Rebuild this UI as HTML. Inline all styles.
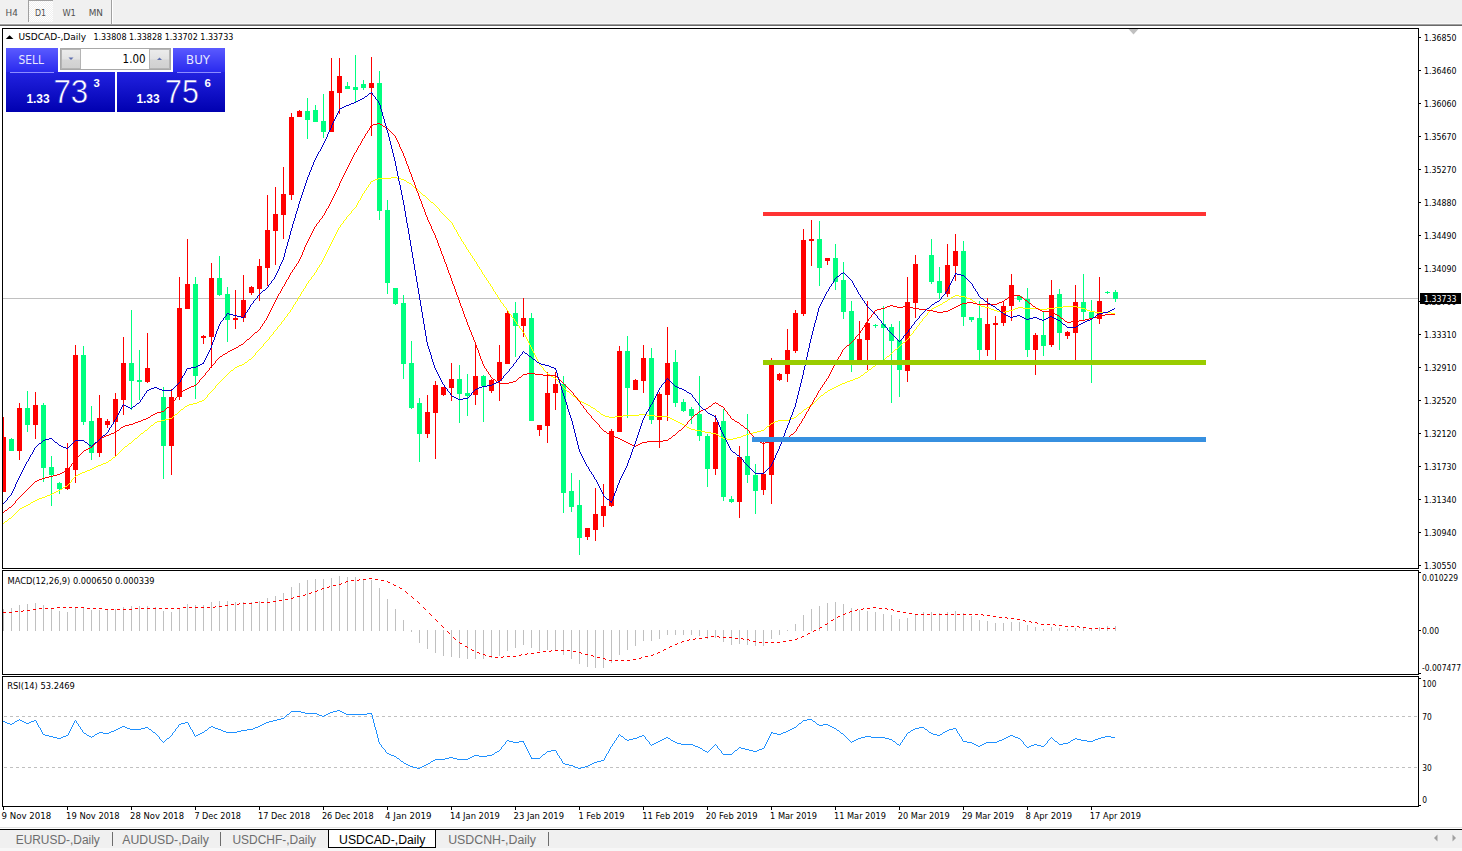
<!DOCTYPE html>
<html><head><meta charset="utf-8"><title>USDCAD-,Daily</title>
<style>
html,body{margin:0;padding:0;background:#fff;width:1462px;height:851px;overflow:hidden}
svg{display:block;font-family:"Liberation Sans", Arial, sans-serif}
.ax{font-size:9.3px;fill:#000;font-family:"DejaVu Sans Condensed","Liberation Sans",sans-serif} .wt{fill:#fff}
</style></head><body>
<svg width="1462" height="851" viewBox="0 0 1462 851">
<defs>
<clipPath id="mainclip"><rect x="3" y="29" width="1415" height="539"/></clipPath>
<pattern id="chk" width="2" height="2" patternUnits="userSpaceOnUse"><rect width="2" height="2" fill="#f0f0f0"/><rect width="1" height="1" fill="#fff"/><rect x="1" y="1" width="1" height="1" fill="#fff"/></pattern>
<pattern id="dash" x="4" width="6" height="1" patternUnits="userSpaceOnUse"><rect width="3" height="1" fill="#c0c0c0"/></pattern>
</defs>
<rect width="1462" height="851" fill="#fff"/>
<rect x="0" y="0" width="1462" height="24" fill="#f0f0f0"/>
<rect x="0" y="23" width="1462" height="1" fill="#f7f7f7"/>
<rect x="0" y="24" width="1462" height="1" fill="#a0a0a0"/>
<rect x="0" y="25" width="1462" height="1" fill="#696969"/>
<rect x="28" y="0" width="25" height="22" fill="url(#chk)"/>
<rect x="28" y="0" width="1" height="22" fill="#a0a0a0"/>
<rect x="28" y="0" width="25" height="1" fill="#a0a0a0"/>
<rect x="111" y="0" width="1" height="24" fill="#a0a0a0"/>
<rect x="112" y="0" width="1" height="24" fill="#ffffff"/>
<text x="5.6" y="15.8" font-size="9.3" fill="#505050" font-family="DejaVu Sans Condensed, Liberation Sans, sans-serif" textLength="12.3" lengthAdjust="spacingAndGlyphs">H4</text>
<text x="34.9" y="15.8" font-size="9.3" fill="#505050" font-family="DejaVu Sans Condensed, Liberation Sans, sans-serif" textLength="11.1" lengthAdjust="spacingAndGlyphs">D1</text>
<text x="62.4" y="15.8" font-size="9.3" fill="#505050" font-family="DejaVu Sans Condensed, Liberation Sans, sans-serif" textLength="13.5" lengthAdjust="spacingAndGlyphs">W1</text>
<text x="88.7" y="15.8" font-size="9.3" fill="#505050" font-family="DejaVu Sans Condensed, Liberation Sans, sans-serif" textLength="14.3" lengthAdjust="spacingAndGlyphs">MN</text>
<rect x="2.5" y="28.5" width="1416" height="540" fill="none" stroke="#000" stroke-width="1"/>
<rect x="2.5" y="570.5" width="1416" height="104" fill="none" stroke="#000" stroke-width="1"/>
<rect x="2.5" y="676.5" width="1416" height="130" fill="none" stroke="#000" stroke-width="1"/>
<rect x="1419" y="37" width="2" height="1" fill="#000"/>
<text x="1424" y="41" class="ax" textLength="32.5" lengthAdjust="spacingAndGlyphs">1.36850</text>
<rect x="1419" y="70" width="2" height="1" fill="#000"/>
<text x="1424" y="74" class="ax" textLength="32.5" lengthAdjust="spacingAndGlyphs">1.36460</text>
<rect x="1419" y="103" width="2" height="1" fill="#000"/>
<text x="1424" y="107" class="ax" textLength="32.5" lengthAdjust="spacingAndGlyphs">1.36060</text>
<rect x="1419" y="136" width="2" height="1" fill="#000"/>
<text x="1424" y="140" class="ax" textLength="32.5" lengthAdjust="spacingAndGlyphs">1.35670</text>
<rect x="1419" y="169" width="2" height="1" fill="#000"/>
<text x="1424" y="173" class="ax" textLength="32.5" lengthAdjust="spacingAndGlyphs">1.35270</text>
<rect x="1419" y="202" width="2" height="1" fill="#000"/>
<text x="1424" y="206" class="ax" textLength="32.5" lengthAdjust="spacingAndGlyphs">1.34880</text>
<rect x="1419" y="235" width="2" height="1" fill="#000"/>
<text x="1424" y="239" class="ax" textLength="32.5" lengthAdjust="spacingAndGlyphs">1.34490</text>
<rect x="1419" y="268" width="2" height="1" fill="#000"/>
<text x="1424" y="272" class="ax" textLength="32.5" lengthAdjust="spacingAndGlyphs">1.34090</text>
<rect x="1419" y="301" width="2" height="1" fill="#000"/>
<text x="1424" y="305" class="ax" textLength="32.5" lengthAdjust="spacingAndGlyphs">1.33700</text>
<rect x="1419" y="334" width="2" height="1" fill="#000"/>
<text x="1424" y="338" class="ax" textLength="32.5" lengthAdjust="spacingAndGlyphs">1.33310</text>
<rect x="1419" y="367" width="2" height="1" fill="#000"/>
<text x="1424" y="371" class="ax" textLength="32.5" lengthAdjust="spacingAndGlyphs">1.32910</text>
<rect x="1419" y="400" width="2" height="1" fill="#000"/>
<text x="1424" y="404" class="ax" textLength="32.5" lengthAdjust="spacingAndGlyphs">1.32520</text>
<rect x="1419" y="433" width="2" height="1" fill="#000"/>
<text x="1424" y="437" class="ax" textLength="32.5" lengthAdjust="spacingAndGlyphs">1.32120</text>
<rect x="1419" y="466" width="2" height="1" fill="#000"/>
<text x="1424" y="470" class="ax" textLength="32.5" lengthAdjust="spacingAndGlyphs">1.31730</text>
<rect x="1419" y="499" width="2" height="1" fill="#000"/>
<text x="1424" y="503" class="ax" textLength="32.5" lengthAdjust="spacingAndGlyphs">1.31340</text>
<rect x="1419" y="532" width="2" height="1" fill="#000"/>
<text x="1424" y="536" class="ax" textLength="32.5" lengthAdjust="spacingAndGlyphs">1.30940</text>
<rect x="1419" y="565" width="2" height="1" fill="#000"/>
<text x="1424" y="569" class="ax" textLength="32.5" lengthAdjust="spacingAndGlyphs">1.30550</text>
<rect x="3" y="298" width="1415" height="1" fill="#c0c0c0"/>
<rect x="1420" y="293" width="41" height="11" fill="#000"/>
<text x="1424" y="302" class="ax wt" textLength="32.5" lengthAdjust="spacingAndGlyphs">1.33733</text>
<polygon points="1128.5,29 1138.5,29 1133.5,34.5" fill="#c0c0c0"/>
<g clip-path="url(#mainclip)"><rect x="3" y="417" width="1" height="75" fill="#ff0000"/><rect x="1" y="437" width="5" height="55" fill="#ff0000"/><rect x="11" y="438" width="1" height="13" fill="#00ff7f"/><rect x="9" y="439" width="5" height="12" fill="#00ff7f"/><rect x="19" y="403" width="1" height="57" fill="#ff0000"/><rect x="17" y="408" width="5" height="43" fill="#ff0000"/><rect x="27" y="391" width="1" height="41" fill="#00ff7f"/><rect x="25" y="408" width="5" height="17" fill="#00ff7f"/><rect x="35" y="392" width="1" height="47" fill="#ff0000"/><rect x="33" y="405" width="5" height="20" fill="#ff0000"/><rect x="43" y="403" width="1" height="79" fill="#00ff7f"/><rect x="41" y="405" width="5" height="63" fill="#00ff7f"/><rect x="51" y="456" width="1" height="50" fill="#00ff7f"/><rect x="49" y="467" width="5" height="8" fill="#00ff7f"/><rect x="59" y="482" width="1" height="12" fill="#00ff7f"/><rect x="57" y="483" width="5" height="6" fill="#00ff7f"/><rect x="67" y="443" width="1" height="47" fill="#ff0000"/><rect x="65" y="468" width="5" height="21" fill="#ff0000"/><rect x="75" y="345" width="1" height="138" fill="#ff0000"/><rect x="73" y="355" width="5" height="115" fill="#ff0000"/><rect x="83" y="346" width="1" height="79" fill="#00ff7f"/><rect x="81" y="355" width="5" height="67" fill="#00ff7f"/><rect x="91" y="406" width="1" height="54" fill="#00ff7f"/><rect x="89" y="421" width="5" height="32" fill="#00ff7f"/><rect x="99" y="395" width="1" height="62" fill="#ff0000"/><rect x="97" y="418" width="5" height="35" fill="#ff0000"/><rect x="107" y="419" width="1" height="9" fill="#ff0000"/><rect x="105" y="421" width="5" height="4" fill="#ff0000"/><rect x="115" y="393" width="1" height="63" fill="#ff0000"/><rect x="113" y="399" width="5" height="23" fill="#ff0000"/><rect x="123" y="337" width="1" height="78" fill="#ff0000"/><rect x="121" y="363" width="5" height="37" fill="#ff0000"/><rect x="131" y="310" width="1" height="100" fill="#00ff7f"/><rect x="129" y="363" width="5" height="18" fill="#00ff7f"/><rect x="139" y="350" width="1" height="50" fill="#00ff7f"/><rect x="137" y="380" width="5" height="2" fill="#00ff7f"/><rect x="147" y="333" width="1" height="50" fill="#ff0000"/><rect x="145" y="368" width="5" height="14" fill="#ff0000"/><rect x="163" y="387" width="1" height="92" fill="#00ff7f"/><rect x="161" y="397" width="5" height="49" fill="#00ff7f"/><rect x="171" y="389" width="1" height="86" fill="#ff0000"/><rect x="169" y="397" width="5" height="49" fill="#ff0000"/><rect x="179" y="277" width="1" height="123" fill="#ff0000"/><rect x="177" y="308" width="5" height="89" fill="#ff0000"/><rect x="187" y="239" width="1" height="70" fill="#ff0000"/><rect x="185" y="284" width="5" height="25" fill="#ff0000"/><rect x="195" y="277" width="1" height="122" fill="#00ff7f"/><rect x="193" y="284" width="5" height="92" fill="#00ff7f"/><rect x="203" y="335" width="1" height="9" fill="#ff0000"/><rect x="201" y="336" width="5" height="2" fill="#ff0000"/><rect x="211" y="263" width="1" height="105" fill="#ff0000"/><rect x="209" y="278" width="5" height="59" fill="#ff0000"/><rect x="219" y="256" width="1" height="40" fill="#00ff7f"/><rect x="217" y="278" width="5" height="17" fill="#00ff7f"/><rect x="227" y="287" width="1" height="55" fill="#00ff7f"/><rect x="225" y="294" width="5" height="26" fill="#00ff7f"/><rect x="235" y="290" width="1" height="39" fill="#ff0000"/><rect x="233" y="318" width="5" height="2" fill="#ff0000"/><rect x="243" y="275" width="1" height="47" fill="#ff0000"/><rect x="241" y="300" width="5" height="18" fill="#ff0000"/><rect x="251" y="286" width="1" height="9" fill="#ff0000"/><rect x="249" y="287" width="5" height="6" fill="#ff0000"/><rect x="259" y="259" width="1" height="42" fill="#ff0000"/><rect x="257" y="266" width="5" height="23" fill="#ff0000"/><rect x="267" y="195" width="1" height="91" fill="#ff0000"/><rect x="265" y="230" width="5" height="38" fill="#ff0000"/><rect x="275" y="187" width="1" height="78" fill="#ff0000"/><rect x="273" y="214" width="5" height="17" fill="#ff0000"/><rect x="283" y="167" width="1" height="72" fill="#ff0000"/><rect x="281" y="194" width="5" height="21" fill="#ff0000"/><rect x="291" y="113" width="1" height="87" fill="#ff0000"/><rect x="289" y="117" width="5" height="78" fill="#ff0000"/><rect x="299" y="110" width="1" height="7" fill="#ff0000"/><rect x="297" y="111" width="5" height="6" fill="#ff0000"/><rect x="307" y="98" width="1" height="41" fill="#00ff7f"/><rect x="305" y="111" width="5" height="9" fill="#00ff7f"/><rect x="315" y="105" width="1" height="17" fill="#00ff7f"/><rect x="313" y="110" width="5" height="12" fill="#00ff7f"/><rect x="323" y="94" width="1" height="44" fill="#00ff7f"/><rect x="321" y="121" width="5" height="11" fill="#00ff7f"/><rect x="331" y="58" width="1" height="74" fill="#ff0000"/><rect x="329" y="91" width="5" height="41" fill="#ff0000"/><rect x="339" y="58" width="1" height="56" fill="#ff0000"/><rect x="337" y="76" width="5" height="17" fill="#ff0000"/><rect x="347" y="82" width="1" height="7" fill="#00ff7f"/><rect x="345" y="86" width="5" height="3" fill="#00ff7f"/><rect x="355" y="55" width="1" height="47" fill="#00ff7f"/><rect x="353" y="87" width="5" height="3" fill="#00ff7f"/><rect x="363" y="80" width="1" height="10" fill="#00ff7f"/><rect x="361" y="84" width="5" height="4" fill="#00ff7f"/><rect x="371" y="57" width="1" height="79" fill="#ff0000"/><rect x="369" y="83" width="5" height="5" fill="#ff0000"/><rect x="379" y="71" width="1" height="149" fill="#00ff7f"/><rect x="377" y="83" width="5" height="128" fill="#00ff7f"/><rect x="387" y="200" width="1" height="94" fill="#00ff7f"/><rect x="385" y="210" width="5" height="73" fill="#00ff7f"/><rect x="395" y="288" width="1" height="17" fill="#00ff7f"/><rect x="393" y="288" width="5" height="16" fill="#00ff7f"/><rect x="403" y="295" width="1" height="84" fill="#00ff7f"/><rect x="401" y="303" width="5" height="61" fill="#00ff7f"/><rect x="411" y="341" width="1" height="68" fill="#00ff7f"/><rect x="409" y="363" width="5" height="45" fill="#00ff7f"/><rect x="419" y="398" width="1" height="64" fill="#00ff7f"/><rect x="417" y="403" width="5" height="31" fill="#00ff7f"/><rect x="427" y="395" width="1" height="43" fill="#ff0000"/><rect x="425" y="412" width="5" height="22" fill="#ff0000"/><rect x="435" y="381" width="1" height="78" fill="#ff0000"/><rect x="433" y="385" width="5" height="28" fill="#ff0000"/><rect x="443" y="387" width="1" height="9" fill="#ff0000"/><rect x="441" y="387" width="5" height="8" fill="#ff0000"/><rect x="451" y="363" width="1" height="38" fill="#ff0000"/><rect x="449" y="379" width="5" height="9" fill="#ff0000"/><rect x="459" y="365" width="1" height="58" fill="#00ff7f"/><rect x="457" y="379" width="5" height="15" fill="#00ff7f"/><rect x="467" y="374" width="1" height="42" fill="#00ff7f"/><rect x="465" y="393" width="5" height="3" fill="#00ff7f"/><rect x="475" y="344" width="1" height="61" fill="#ff0000"/><rect x="473" y="376" width="5" height="19" fill="#ff0000"/><rect x="483" y="375" width="1" height="47" fill="#00ff7f"/><rect x="481" y="376" width="5" height="10" fill="#00ff7f"/><rect x="491" y="379" width="1" height="14" fill="#ff0000"/><rect x="489" y="380" width="5" height="11" fill="#ff0000"/><rect x="499" y="345" width="1" height="56" fill="#ff0000"/><rect x="497" y="362" width="5" height="19" fill="#ff0000"/><rect x="507" y="311" width="1" height="53" fill="#ff0000"/><rect x="505" y="313" width="5" height="51" fill="#ff0000"/><rect x="515" y="302" width="1" height="55" fill="#00ff7f"/><rect x="513" y="313" width="5" height="13" fill="#00ff7f"/><rect x="523" y="298" width="1" height="39" fill="#ff0000"/><rect x="521" y="318" width="5" height="8" fill="#ff0000"/><rect x="531" y="313" width="1" height="108" fill="#00ff7f"/><rect x="529" y="318" width="5" height="103" fill="#00ff7f"/><rect x="539" y="425" width="1" height="11" fill="#ff0000"/><rect x="537" y="425" width="5" height="5" fill="#ff0000"/><rect x="547" y="372" width="1" height="71" fill="#ff0000"/><rect x="545" y="393" width="5" height="33" fill="#ff0000"/><rect x="555" y="372" width="1" height="38" fill="#ff0000"/><rect x="553" y="384" width="5" height="9" fill="#ff0000"/><rect x="563" y="376" width="1" height="137" fill="#00ff7f"/><rect x="561" y="384" width="5" height="109" fill="#00ff7f"/><rect x="571" y="473" width="1" height="39" fill="#00ff7f"/><rect x="569" y="491" width="5" height="16" fill="#00ff7f"/><rect x="579" y="480" width="1" height="75" fill="#00ff7f"/><rect x="577" y="505" width="5" height="33" fill="#00ff7f"/><rect x="587" y="528" width="1" height="12" fill="#ff0000"/><rect x="585" y="528" width="5" height="9" fill="#ff0000"/><rect x="595" y="488" width="1" height="53" fill="#ff0000"/><rect x="593" y="514" width="5" height="16" fill="#ff0000"/><rect x="603" y="484" width="1" height="43" fill="#ff0000"/><rect x="601" y="506" width="5" height="10" fill="#ff0000"/><rect x="611" y="429" width="1" height="78" fill="#ff0000"/><rect x="609" y="431" width="5" height="75" fill="#ff0000"/><rect x="619" y="346" width="1" height="86" fill="#ff0000"/><rect x="617" y="351" width="5" height="81" fill="#ff0000"/><rect x="627" y="336" width="1" height="82" fill="#00ff7f"/><rect x="625" y="351" width="5" height="37" fill="#00ff7f"/><rect x="635" y="379" width="1" height="11" fill="#ff0000"/><rect x="633" y="380" width="5" height="10" fill="#ff0000"/><rect x="643" y="345" width="1" height="48" fill="#ff0000"/><rect x="641" y="358" width="5" height="23" fill="#ff0000"/><rect x="651" y="348" width="1" height="76" fill="#00ff7f"/><rect x="649" y="358" width="5" height="62" fill="#00ff7f"/><rect x="659" y="392" width="1" height="56" fill="#ff0000"/><rect x="657" y="394" width="5" height="26" fill="#ff0000"/><rect x="667" y="327" width="1" height="94" fill="#ff0000"/><rect x="665" y="363" width="5" height="32" fill="#ff0000"/><rect x="675" y="350" width="1" height="57" fill="#00ff7f"/><rect x="673" y="362" width="5" height="41" fill="#00ff7f"/><rect x="683" y="399" width="1" height="13" fill="#00ff7f"/><rect x="681" y="402" width="5" height="9" fill="#00ff7f"/><rect x="691" y="407" width="1" height="17" fill="#00ff7f"/><rect x="689" y="409" width="5" height="7" fill="#00ff7f"/><rect x="699" y="376" width="1" height="65" fill="#00ff7f"/><rect x="697" y="414" width="5" height="22" fill="#00ff7f"/><rect x="707" y="434" width="1" height="53" fill="#00ff7f"/><rect x="705" y="436" width="5" height="33" fill="#00ff7f"/><rect x="715" y="415" width="1" height="60" fill="#ff0000"/><rect x="713" y="422" width="5" height="47" fill="#ff0000"/><rect x="723" y="409" width="1" height="92" fill="#00ff7f"/><rect x="721" y="421" width="5" height="76" fill="#00ff7f"/><rect x="731" y="496" width="1" height="7" fill="#00ff7f"/><rect x="729" y="499" width="5" height="3" fill="#00ff7f"/><rect x="739" y="446" width="1" height="72" fill="#ff0000"/><rect x="737" y="457" width="5" height="45" fill="#ff0000"/><rect x="747" y="414" width="1" height="69" fill="#00ff7f"/><rect x="745" y="456" width="5" height="19" fill="#00ff7f"/><rect x="755" y="464" width="1" height="50" fill="#00ff7f"/><rect x="753" y="475" width="5" height="16" fill="#00ff7f"/><rect x="763" y="442" width="1" height="53" fill="#ff0000"/><rect x="761" y="474" width="5" height="16" fill="#ff0000"/><rect x="771" y="358" width="1" height="146" fill="#ff0000"/><rect x="769" y="364" width="5" height="111" fill="#ff0000"/><rect x="779" y="373" width="1" height="8" fill="#ff0000"/><rect x="777" y="374" width="5" height="6" fill="#ff0000"/><rect x="787" y="329" width="1" height="53" fill="#ff0000"/><rect x="785" y="350" width="5" height="24" fill="#ff0000"/><rect x="795" y="310" width="1" height="43" fill="#ff0000"/><rect x="793" y="313" width="5" height="38" fill="#ff0000"/><rect x="803" y="229" width="1" height="87" fill="#ff0000"/><rect x="801" y="240" width="5" height="74" fill="#ff0000"/><rect x="811" y="220" width="1" height="46" fill="#ff0000"/><rect x="809" y="239" width="5" height="2" fill="#ff0000"/><rect x="819" y="221" width="1" height="65" fill="#00ff7f"/><rect x="817" y="239" width="5" height="29" fill="#00ff7f"/><rect x="827" y="258" width="1" height="7" fill="#ff0000"/><rect x="825" y="258" width="5" height="3" fill="#ff0000"/><rect x="835" y="244" width="1" height="46" fill="#00ff7f"/><rect x="833" y="258" width="5" height="24" fill="#00ff7f"/><rect x="843" y="262" width="1" height="57" fill="#00ff7f"/><rect x="841" y="280" width="5" height="32" fill="#00ff7f"/><rect x="851" y="301" width="1" height="71" fill="#00ff7f"/><rect x="849" y="311" width="5" height="53" fill="#00ff7f"/><rect x="859" y="321" width="1" height="40" fill="#ff0000"/><rect x="857" y="339" width="5" height="22" fill="#ff0000"/><rect x="867" y="301" width="1" height="69" fill="#ff0000"/><rect x="865" y="323" width="5" height="17" fill="#ff0000"/><rect x="875" y="324" width="1" height="4" fill="#00ff7f"/><rect x="873" y="325" width="5" height="1" fill="#00ff7f"/><rect x="883" y="306" width="1" height="54" fill="#00ff7f"/><rect x="881" y="324" width="5" height="4" fill="#00ff7f"/><rect x="891" y="324" width="1" height="79" fill="#00ff7f"/><rect x="889" y="327" width="5" height="14" fill="#00ff7f"/><rect x="899" y="321" width="1" height="76" fill="#00ff7f"/><rect x="897" y="340" width="5" height="30" fill="#00ff7f"/><rect x="907" y="277" width="1" height="105" fill="#ff0000"/><rect x="905" y="302" width="5" height="69" fill="#ff0000"/><rect x="915" y="255" width="1" height="63" fill="#ff0000"/><rect x="913" y="264" width="5" height="39" fill="#ff0000"/><rect x="931" y="239" width="1" height="45" fill="#00ff7f"/><rect x="929" y="255" width="5" height="27" fill="#00ff7f"/><rect x="939" y="267" width="1" height="32" fill="#00ff7f"/><rect x="937" y="281" width="5" height="12" fill="#00ff7f"/><rect x="947" y="244" width="1" height="53" fill="#ff0000"/><rect x="945" y="265" width="5" height="29" fill="#ff0000"/><rect x="955" y="234" width="1" height="47" fill="#ff0000"/><rect x="953" y="251" width="5" height="15" fill="#ff0000"/><rect x="963" y="241" width="1" height="85" fill="#00ff7f"/><rect x="961" y="251" width="5" height="66" fill="#00ff7f"/><rect x="971" y="317" width="1" height="5" fill="#00ff7f"/><rect x="969" y="317" width="5" height="3" fill="#00ff7f"/><rect x="979" y="301" width="1" height="59" fill="#00ff7f"/><rect x="977" y="318" width="5" height="32" fill="#00ff7f"/><rect x="987" y="298" width="1" height="58" fill="#ff0000"/><rect x="985" y="324" width="5" height="26" fill="#ff0000"/><rect x="995" y="316" width="1" height="44" fill="#ff0000"/><rect x="993" y="323" width="5" height="2" fill="#ff0000"/><rect x="1003" y="302" width="1" height="24" fill="#ff0000"/><rect x="1001" y="306" width="5" height="17" fill="#ff0000"/><rect x="1011" y="274" width="1" height="47" fill="#ff0000"/><rect x="1009" y="285" width="5" height="21" fill="#ff0000"/><rect x="1019" y="296" width="1" height="6" fill="#00ff7f"/><rect x="1017" y="296" width="5" height="4" fill="#00ff7f"/><rect x="1027" y="288" width="1" height="69" fill="#00ff7f"/><rect x="1025" y="299" width="5" height="51" fill="#00ff7f"/><rect x="1035" y="333" width="1" height="42" fill="#ff0000"/><rect x="1033" y="335" width="5" height="15" fill="#ff0000"/><rect x="1043" y="311" width="1" height="45" fill="#00ff7f"/><rect x="1041" y="335" width="5" height="11" fill="#00ff7f"/><rect x="1051" y="280" width="1" height="67" fill="#ff0000"/><rect x="1049" y="295" width="5" height="50" fill="#ff0000"/><rect x="1059" y="289" width="1" height="61" fill="#00ff7f"/><rect x="1057" y="294" width="5" height="39" fill="#00ff7f"/><rect x="1067" y="331" width="1" height="8" fill="#ff0000"/><rect x="1065" y="332" width="5" height="4" fill="#ff0000"/><rect x="1075" y="285" width="1" height="75" fill="#ff0000"/><rect x="1073" y="302" width="5" height="31" fill="#ff0000"/><rect x="1083" y="274" width="1" height="47" fill="#00ff7f"/><rect x="1081" y="302" width="5" height="10" fill="#00ff7f"/><rect x="1091" y="300" width="1" height="83" fill="#00ff7f"/><rect x="1089" y="312" width="5" height="6" fill="#00ff7f"/><rect x="1099" y="277" width="1" height="47" fill="#ff0000"/><rect x="1097" y="301" width="5" height="18" fill="#ff0000"/><rect x="1107" y="291" width="1" height="3" fill="#00ff7f"/><rect x="1105" y="292" width="5" height="1" fill="#00ff7f"/><rect x="1115" y="290" width="1" height="12" fill="#00ff7f"/><rect x="1113" y="292" width="5" height="7" fill="#00ff7f"/></g>
<g shape-rendering="crispEdges">
<path d="M242 364h2v1h-2zM876 364h2v1h-2zM185 406h2v1h-2zM809 406h2v1h-2zM932 308h2v1h-2zM989 308h2v1h-2zM1015 308h3v1h-3zM1023 308h16v1h-16zM1047 308h8v1h-8zM1081 308h4v1h-4zM997 311h4v1h-4zM1005 311h4v1h-4zM1090 311h5v1h-5zM705 432h6v1h-6zM753 432h4v1h-4zM842 383h3v1h-3zM840 384h2v1h-2zM199 401h3v1h-3zM580 401h2v1h-2zM423 195h2v1h-2zM934 307h2v1h-2zM985 307h4v1h-4zM1018 307h5v1h-5zM1055 307h8v1h-8zM1077 307h4v1h-4zM161 420h4v1h-4zM674 420h2v1h-2zM778 420h11v1h-11zM378 178h13v1h-13zM397 178h4v1h-4zM169 418h3v1h-3zM670 418h2v1h-2zM791 418h3v1h-3zM573 396h2v1h-2zM145 430h2v1h-2zM695 430h6v1h-6zM761 430h3v1h-3zM743 435h3v1h-3zM155 422h2v1h-2zM678 422h2v1h-2zM773 422h2v1h-2zM953 296h2v1h-2zM959 296h6v1h-6zM689 428h2v1h-2zM869 369h2v1h-2zM682 424h2v1h-2zM431 202h2v1h-2zM548 374h2v1h-2zM936 306h2v1h-2zM981 306h4v1h-4zM1063 306h14v1h-14zM20 508h2v1h-2zM141 433h2v1h-2zM711 433h5v1h-5zM749 433h4v1h-4zM26 505h2v1h-2zM838 385h2v1h-2zM691 429h4v1h-4zM553 377h2v1h-2zM858 377h2v1h-2zM603 415h2v1h-2zM623 415h16v1h-16zM647 415h8v1h-8zM828 390h2v1h-2zM895 349h2v1h-2zM605 416h4v1h-4zM615 416h8v1h-8zM655 416h13v1h-13zM45 496h2v1h-2zM721 437h2v1h-2zM737 437h4v1h-4zM903 342h2v1h-2zM719 436h2v1h-2zM741 436h2v1h-2zM881 361h2v1h-2zM577 399h2v1h-2zM22 507h2v1h-2zM940 304h2v1h-2zM977 304h2v1h-2zM834 387h2v1h-2zM991 309h3v1h-3zM1013 309h2v1h-2zM1039 309h8v1h-8zM1085 309h2v1h-2zM1001 312h4v1h-4zM1095 312h16v1h-16zM967 298h3v1h-3zM994 310h3v1h-3zM1009 310h4v1h-4zM1087 310h3v1h-3zM135 438h2v1h-2zM723 438h4v1h-4zM733 438h4v1h-4zM830 389h2v1h-2zM60 489h2v1h-2zM39 498h3v1h-3zM861 375h2v1h-2zM407 182h2v1h-2zM82 472h3v1h-3zM157 421h4v1h-4zM676 421h2v1h-2zM775 421h3v1h-3zM231 370h2v1h-2zM193 403h4v1h-4zM584 403h2v1h-2zM591 407h2v1h-2zM807 407h2v1h-2zM567 391h2v1h-2zM9 518h2v1h-2zM945 301h2v1h-2zM973 301h2v1h-2zM103 463h3v1h-3zM767 426h2v1h-2zM125 446h2v1h-2zM799 413h2v1h-2zM187 405h2v1h-2zM588 405h2v1h-2zM951 297h2v1h-2zM965 297h2v1h-2zM78 474h2v1h-2zM189 404h4v1h-4zM586 404h2v1h-2zM865 372h2v1h-2zM853 379h2v1h-2zM375 179h3v1h-3zM401 179h3v1h-3zM197 402h2v1h-2zM582 402h2v1h-2zM701 431h4v1h-4zM757 431h4v1h-4zM887 356h2v1h-2zM28 504h2v1h-2zM202 400h2v1h-2zM175 414h2v1h-2zM601 414h2v1h-2zM639 414h8v1h-8zM113 457h2v1h-2zM101 464h2v1h-2zM1111 313h4v1h-4zM371 181h2v1h-2zM847 381h3v1h-3zM391 177h6v1h-6zM237 366h2v1h-2zM873 366h2v1h-2zM151 425h2v1h-2zM684 425h2v1h-2zM832 388h2v1h-2zM825 392h2v1h-2zM54 492h2v1h-2zM938 305h2v1h-2zM979 305h2v1h-2zM63 487h2v1h-2zM821 395h2v1h-2zM943 302h2v1h-2zM593 408h2v1h-2zM96 466h2v1h-2zM181 409h2v1h-2zM804 409h2v1h-2zM955 295h4v1h-4zM609 417h6v1h-6zM668 417h2v1h-2zM794 417h2v1h-2zM239 365h3v1h-3zM50 494h2v1h-2zM855 378h3v1h-3zM551 376h2v1h-2zM92 468h2v1h-2zM87 470h3v1h-3zM165 419h4v1h-4zM672 419h2v1h-2zM789 419h2v1h-2zM836 386h2v1h-2zM65 486h2v1h-2zM727 439h6v1h-6zM948 299h2v1h-2zM970 299h2v1h-2zM680 423h2v1h-2zM771 423h2v1h-2zM80 473h2v1h-2zM245 362h2v1h-2zM879 362h2v1h-2zM33 501h2v1h-2zM98 465h3v1h-3zM850 380h3v1h-3zM106 462h2v1h-2zM76 475h2v1h-2zM415 188h2v1h-2zM845 382h2v1h-2zM687 427h2v1h-2zM5 521h2v1h-2zM597 411h2v1h-2zM47 495h3v1h-3zM249 359h2v1h-2zM235 367h2v1h-2zM42 497h3v1h-3zM85 471h2v1h-2zM58 490h2v1h-2zM56 491h2v1h-2zM716 434h2v1h-2zM746 434h3v1h-3zM373 180h2v1h-2zM404 180h2v1h-2zM52 493h2v1h-2zM409 183h2v1h-2zM94 467h2v1h-2zM37 499h2v1h-2zM129 443h2v1h-2zM90 469h2v1h-2zM109 460h2v1h-2zM35 500h2v1h-2zM24 506h2v1h-2zM31 502h2v1h-2zM70 482h1v1h-1zM123 448h1v1h-1zM267 340h1v1h-1zM460 237h1v2h-1zM7 520h1v1h-1zM471 255h1v1h-1zM127 445h1v1h-1zM479 267h1v2h-1zM264 343h1v1h-1zM30 503h1v1h-1zM500 300h1v2h-1zM347 216h1v1h-1zM323 258h1v2h-1zM280 324h1v1h-1zM303 289h1v2h-1zM532 349h1v2h-1zM909 336h1v2h-1zM217 384h1v1h-1zM472 256h1v2h-1zM11 517h1v1h-1zM812 404h1v1h-1zM362 194h1v2h-1zM292 307h1v2h-1zM686 426h1v1h-1zM120 451h1v1h-1zM295 302h1v2h-1zM315 272h1v1h-1zM475 261h1v1h-1zM504 306h1v1h-1zM533 351h1v2h-1zM902 343h1v1h-1zM438 208h1v1h-1zM275 330h1v1h-1zM331 242h1v2h-1zM427 198h1v1h-1zM439 209h1v2h-1zM299 296h1v1h-1zM233 369h1v1h-1zM358 201h1v2h-1zM73 478h1v1h-1zM256 352h1v1h-1zM863 374h1v1h-1zM886 357h1v1h-1zM134 439h1v1h-1zM474 259h1v2h-1zM327 250h1v2h-1zM482 272h1v2h-1zM867 371h1v1h-1zM68 484h1v1h-1zM283 320h1v1h-1zM343 221h1v2h-1zM306 284h1v2h-1zM286 316h1v1h-1zM131 442h1v1h-1zM478 266h1v1h-1zM486 278h1v2h-1zM18 510h1v1h-1zM224 377h1v1h-1zM599 412h1v1h-1zM338 228h1v2h-1zM797 415h1v1h-1zM212 390h1v1h-1zM508 311h1v2h-1zM529 343h1v2h-1zM906 340h1v1h-1zM561 385h1v1h-1zM766 427h1v1h-1zM259 349h1v1h-1zM426 197h1v1h-1zM514 319h1v2h-1zM801 412h1v1h-1zM173 416h1v1h-1zM351 211h1v2h-1zM562 386h1v1h-1zM770 424h1v1h-1zM111 459h1v1h-1zM177 413h1v1h-1zM518 325h1v1h-1zM209 393h1v1h-1zM322 260h1v2h-1zM893 351h1v1h-1zM115 456h1v1h-1zM346 217h1v2h-1zM138 436h1v1h-1zM897 348h1v1h-1zM917 326h1v1h-1zM470 253h1v2h-1zM247 361h1v1h-1zM314 273h1v2h-1zM204 399h1v1h-1zM481 270h1v2h-1zM153 424h1v1h-1zM251 358h1v1h-1zM543 368h1v2h-1zM503 304h1v2h-1zM333 238h1v2h-1zM506 308h1v2h-1zM365 190h1v1h-1zM819 397h1v1h-1zM298 297h1v2h-1zM354 208h1v1h-1zM357 203h1v2h-1zM507 310h1v1h-1zM15 513h1v1h-1zM528 341h1v2h-1zM816 400h1v1h-1zM925 316h1v1h-1zM269 337h1v2h-1zM326 252h1v2h-1zM928 312h1v1h-1zM441 212h1v1h-1zM184 407h1v1h-1zM550 375h1v1h-1zM302 291h1v1h-1zM361 196h1v2h-1zM920 322h1v1h-1zM207 395h1v2h-1zM595 409h1v1h-1zM448 219h1v1h-1zM277 327h1v2h-1zM477 264h1v2h-1zM422 194h1v1h-1zM433 203h1v1h-1zM590 406h1v1h-1zM370 182h1v2h-1zM411 184h1v1h-1zM569 392h1v1h-1zM434 204h1v1h-1zM823 394h1v1h-1zM318 267h1v1h-1zM274 331h1v1h-1zM827 391h1v1h-1zM219 382h1v1h-1zM916 327h1v2h-1zM520 328h1v1h-1zM122 449h1v1h-1zM266 341h1v1h-1zM305 286h1v2h-1zM521 329h1v1h-1zM337 230h1v2h-1zM340 225h1v2h-1zM814 402h1v1h-1zM923 318h1v1h-1zM447 218h1v1h-1zM908 338h1v1h-1zM484 275h1v2h-1zM811 405h1v1h-1zM261 347h1v1h-1zM364 191h1v2h-1zM803 410h1v1h-1zM545 371h1v1h-1zM309 280h1v1h-1zM480 269h1v1h-1zM312 276h1v1h-1zM488 281h1v2h-1zM321 262h1v2h-1zM211 391h1v1h-1zM546 372h1v1h-1zM336 232h1v2h-1zM75 476h1v1h-1zM531 347h1v2h-1zM258 350h1v1h-1zM172 417h1v1h-1zM899 346h1v1h-1zM72 479h1v1h-1zM360 198h1v2h-1zM206 397h1v1h-1zM13 515h1v1h-1zM144 431h1v1h-1zM428 199h1v1h-1zM892 352h1v1h-1zM133 440h1v1h-1zM253 356h1v1h-1zM524 333h1v2h-1zM332 240h1v2h-1zM285 317h1v1h-1zM429 200h1v1h-1zM137 437h1v1h-1zM356 205h1v2h-1zM950 298h1v1h-1zM942 303h1v1h-1zM325 254h1v2h-1zM911 334h1v1h-1zM579 400h1v1h-1zM483 274h1v1h-1zM476 262h1v2h-1zM505 307h1v1h-1zM487 280h1v1h-1zM179 411h1v1h-1zM509 313h1v1h-1zM368 185h1v2h-1zM530 345h1v2h-1zM301 292h1v2h-1zM519 326h1v2h-1zM919 323h1v2h-1zM527 339h1v2h-1zM348 215h1v1h-1zM148 428h1v1h-1zM226 375h1v1h-1zM563 387h1v1h-1zM523 332h1v1h-1zM564 388h1v1h-1zM67 485h1v1h-1zM417 189h1v1h-1zM914 330h1v1h-1zM308 281h1v2h-1zM288 313h1v1h-1zM871 368h1v1h-1zM273 332h1v2h-1zM297 299h1v2h-1zM418 190h1v1h-1zM883 360h1v1h-1zM17 511h1v1h-1zM458 234h1v2h-1zM818 398h1v1h-1zM927 313h1v2h-1zM461 239h1v2h-1zM538 361h1v2h-1zM930 310h1v1h-1zM490 284h1v2h-1zM498 297h1v2h-1zM600 413h1v1h-1zM454 227h1v2h-1zM268 339h1v1h-1zM117 454h1v1h-1zM183 408h1v1h-1zM435 205h1v1h-1zM4 522h1v1h-1zM922 319h1v2h-1zM556 379h1v1h-1zM526 337h1v2h-1zM442 213h1v1h-1zM311 277h1v2h-1zM291 309h1v1h-1zM443 214h1v1h-1zM335 234h1v2h-1zM890 354h1v1h-1zM875 365h1v1h-1zM260 348h1v1h-1zM596 410h1v1h-1zM555 378h1v1h-1zM457 232h1v2h-1zM449 220h1v1h-1zM465 245h1v2h-1zM367 187h1v1h-1zM860 376h1v1h-1zM320 264h1v1h-1zM537 359h1v2h-1zM221 380h1v1h-1zM450 221h1v1h-1zM124 447h1v1h-1zM244 363h1v1h-1zM412 185h1v1h-1zM570 393h1v1h-1zM8 519h1v1h-1zM511 315h1v2h-1zM139 435h1v1h-1zM128 444h1v1h-1zM248 360h1v1h-1zM522 330h1v2h-1zM413 186h1v1h-1zM512 317h1v1h-1zM525 335h1v2h-1zM12 516h1v1h-1zM304 288h1v1h-1zM813 403h1v1h-1zM263 344h1v2h-1zM339 227h1v1h-1zM316 270h1v2h-1zM276 329h1v1h-1zM279 325h1v1h-1zM213 389h1v1h-1zM108 461h1v1h-1zM540 365h1v1h-1zM485 277h1v1h-1zM74 477h1v1h-1zM493 289h1v2h-1zM975 302h1v1h-1zM453 225h1v2h-1zM271 335h1v1h-1zM228 373h1v1h-1zM255 353h1v2h-1zM547 373h1v1h-1zM913 331h1v2h-1zM143 432h1v1h-1zM69 483h1v1h-1zM287 314h1v2h-1zM252 357h1v1h-1zM559 382h1v2h-1zM147 429h1v1h-1zM19 509h1v1h-1zM820 396h1v1h-1zM282 321h1v1h-1zM216 385h1v1h-1zM910 335h1v1h-1zM119 452h1v1h-1zM294 304h1v1h-1zM824 393h1v1h-1zM565 389h1v1h-1zM330 244h1v2h-1zM363 193h1v1h-1zM174 415h1v1h-1zM901 344h1v1h-1zM430 201h1v1h-1zM539 363h1v2h-1zM112 458h1v1h-1zM566 390h1v1h-1zM456 230h1v2h-1zM796 416h1v1h-1zM419 191h1v1h-1zM178 412h1v1h-1zM905 341h1v1h-1zM536 357h1v2h-1zM489 283h1v1h-1zM894 350h1v1h-1zM765 428h1v1h-1zM492 287h1v2h-1zM420 192h1v1h-1zM452 223h1v2h-1zM350 213h1v1h-1zM290 310h1v2h-1zM150 426h1v1h-1zM921 321h1v1h-1zM208 394h1v1h-1zM154 423h1v1h-1zM342 223h1v1h-1zM345 219h1v1h-1zM334 236h1v2h-1zM558 381h1v1h-1zM310 279h1v1h-1zM885 358h1v1h-1zM366 188h1v2h-1zM223 378h1v1h-1zM929 311h1v1h-1zM317 268h1v2h-1zM463 242h1v2h-1zM445 216h1v1h-1zM466 247h1v2h-1zM495 292h1v2h-1zM353 209h1v1h-1zM14 514h1v1h-1zM459 236h1v1h-1zM3 523h1v1h-1zM815 401h1v1h-1zM467 249h1v1h-1zM924 317h1v1h-1zM496 294h1v1h-1zM499 299h1v1h-1zM557 380h1v1h-1zM510 314h1v1h-1zM769 425h1v1h-1zM281 322h1v2h-1zM215 386h1v2h-1zM293 305h1v2h-1zM262 346h1v1h-1zM329 246h1v2h-1zM575 397h1v1h-1zM444 215h1v1h-1zM889 355h1v1h-1zM576 398h1v1h-1zM369 184h1v1h-1zM462 241h1v1h-1zM491 286h1v1h-1zM270 336h1v1h-1zM494 291h1v1h-1zM227 374h1v1h-1zM455 229h1v1h-1zM535 355h1v2h-1zM436 206h1v1h-1zM218 383h1v1h-1zM912 333h1v1h-1zM947 300h1v1h-1zM265 342h1v1h-1zM437 207h1v1h-1zM324 256h1v2h-1zM313 275h1v1h-1zM414 187h1v1h-1zM907 339h1v1h-1zM278 326h1v1h-1zM513 318h1v1h-1zM118 453h1v1h-1zM230 371h1v1h-1zM900 345h1v1h-1zM210 392h1v1h-1zM300 294h1v2h-1zM234 368h1v1h-1zM71 480h1v2h-1zM254 355h1v1h-1zM469 252h1v1h-1zM864 373h1v1h-1zM451 222h1v1h-1zM289 312h1v1h-1zM149 427h1v1h-1zM571 394h1v1h-1zM542 367h1v1h-1zM473 258h1v1h-1zM284 318h1v2h-1zM502 303h1v1h-1zM132 441h1v1h-1zM121 450h1v1h-1zM572 395h1v1h-1zM341 224h1v1h-1zM425 196h1v1h-1zM516 322h1v2h-1zM798 414h1v1h-1zM517 324h1v1h-1zM222 379h1v1h-1zM180 410h1v1h-1zM440 211h1v1h-1zM802 411h1v1h-1zM257 351h1v1h-1zM541 366h1v1h-1zM349 214h1v1h-1zM718 435h1v1h-1zM352 210h1v1h-1zM468 250h1v2h-1zM976 303h1v1h-1zM497 295h1v2h-1zM328 248h1v2h-1zM868 370h1v1h-1zM534 353h1v2h-1zM764 429h1v1h-1zM891 353h1v1h-1zM915 329h1v1h-1zM359 200h1v1h-1zM918 325h1v1h-1zM421 193h1v1h-1zM872 367h1v1h-1zM344 220h1v1h-1zM205 398h1v1h-1zM225 376h1v1h-1zM884 359h1v1h-1zM560 384h1v1h-1zM931 309h1v1h-1zM307 283h1v1h-1zM296 301h1v1h-1zM319 265h1v2h-1zM355 207h1v1h-1zM16 512h1v1h-1zM817 399h1v1h-1zM926 315h1v1h-1zM806 408h1v1h-1zM406 181h1v1h-1zM116 455h1v1h-1zM464 244h1v1h-1zM898 347h1v1h-1zM501 302h1v1h-1zM214 388h1v1h-1zM544 370h1v1h-1zM515 321h1v1h-1zM62 488h1v1h-1zM972 300h1v1h-1zM272 334h1v1h-1zM229 372h1v1h-1zM140 434h1v1h-1zM878 363h1v1h-1zM220 381h1v1h-1zM446 217h1v1h-1z" fill="#ffff00"/>
<path d="M1067 322h4v1h-4zM962 303h5v1h-5zM973 303h4v1h-4zM997 303h2v1h-2zM1029 303h2v1h-2zM151 415h2v1h-2zM106 435h3v1h-3zM611 435h2v1h-2zM673 435h2v1h-2zM523 374h4v1h-4zM535 374h8v1h-8zM104 436h2v1h-2zM613 436h2v1h-2zM1065 321h2v1h-2zM1071 321h8v1h-8zM881 308h4v1h-4zM913 308h6v1h-6zM952 308h2v1h-2zM1036 308h2v1h-2zM225 353h2v1h-2zM42 478h3v1h-3zM135 422h3v1h-3zM737 422h2v1h-2zM373 124h4v1h-4zM380 124h2v1h-2zM622 440h2v1h-2zM663 440h5v1h-5zM756 440h2v1h-2zM781 440h2v1h-2zM967 302h6v1h-6zM999 302h3v1h-3zM877 309h4v1h-4zM919 309h8v1h-8zM950 309h2v1h-2zM1038 309h2v1h-2zM123 426h2v1h-2zM499 383h10v1h-10zM624 441h2v1h-2zM647 441h16v1h-16zM758 441h2v1h-2zM769 441h12v1h-12zM1011 295h9v1h-9zM1057 315h2v1h-2zM1101 315h4v1h-4zM1061 318h2v1h-2zM1089 318h4v1h-4zM745 428h2v1h-2zM933 311h4v1h-4zM943 311h5v1h-5zM1042 311h10v1h-10zM1055 314h2v1h-2zM1105 314h10v1h-10zM111 433h3v1h-3zM607 433h2v1h-2zM497 382h2v1h-2zM509 382h4v1h-4zM543 375h13v1h-13zM153 414h2v1h-2zM695 414h2v1h-2zM109 434h2v1h-2zM609 434h2v1h-2zM791 434h2v1h-2zM628 443h2v1h-2zM640 443h2v1h-2zM762 443h3v1h-3zM604 431h2v1h-2zM129 424h4v1h-4zM875 310h2v1h-2zM927 310h6v1h-6zM948 310h2v1h-2zM1040 310h2v1h-2zM102 437h2v1h-2zM615 437h3v1h-3zM185 389h2v1h-2zM885 307h2v1h-2zM897 307h6v1h-6zM909 307h4v1h-4zM954 307h2v1h-2zM713 403h2v1h-2zM716 403h2v1h-2zM1097 316h4v1h-4zM719 405h2v1h-2zM634 446h2v1h-2zM890 305h3v1h-3zM958 305h2v1h-2zM701 410h2v1h-2zM223 354h2v1h-2zM709 406h2v1h-2zM721 406h2v1h-2zM626 442h2v1h-2zM642 442h5v1h-5zM760 442h2v1h-2zM765 442h4v1h-4zM620 439h2v1h-2zM783 439h3v1h-3zM1021 297h2v1h-2zM1085 319h4v1h-4zM1005 299h2v1h-2zM148 417h2v1h-2zM706 408h2v1h-2zM960 304h2v1h-2zM977 304h20v1h-20zM138 421h3v1h-3zM735 421h2v1h-2zM230 350h2v1h-2zM527 373h8v1h-8zM180 392h2v1h-2zM88 448h2v1h-2zM220 356h2v1h-2zM255 332h2v1h-2zM937 312h6v1h-6zM1052 312h2v1h-2zM887 306h3v1h-3zM893 306h4v1h-4zM903 306h6v1h-6zM956 306h2v1h-2zM1033 306h2v1h-2zM157 412h4v1h-4zM146 418h2v1h-2zM114 432h2v1h-2zM167 407h2v1h-2zM84 450h2v1h-2zM371 125h2v1h-2zM143 419h3v1h-3zM732 419h2v1h-2zM64 471h2v1h-2zM519 377h2v1h-2zM133 423h2v1h-2zM234 348h2v1h-2zM191 386h3v1h-3zM493 379h2v1h-2zM247 339h2v1h-2zM53 475h4v1h-4zM60 473h2v1h-2zM187 388h2v1h-2zM37 480h2v1h-2zM236 347h2v1h-2zM1079 320h6v1h-6zM155 413h2v1h-2zM161 411h3v1h-3zM699 411h2v1h-2zM183 390h2v1h-2zM513 381h3v1h-3zM125 425h4v1h-4zM741 425h2v1h-2zM49 476h4v1h-4zM241 344h2v1h-2zM39 479h3v1h-3zM35 481h2v1h-2zM66 470h2v1h-2zM1009 296h2v1h-2zM239 345h2v1h-2zM847 345h2v1h-2zM703 409h3v1h-3zM632 445h2v1h-2zM636 445h2v1h-2zM117 430h2v1h-2zM679 430h2v1h-2zM121 427h2v1h-2zM1025 300h2v1h-2zM9 507h2v1h-2zM385 127h2v1h-2zM141 420h2v1h-2zM1002 301h2v1h-2zM100 438h2v1h-2zM618 438h2v1h-2zM669 438h2v1h-2zM786 438h2v1h-2zM377 123h3v1h-3zM189 387h2v1h-2zM630 444h2v1h-2zM638 444h2v1h-2zM232 349h2v1h-2zM90 447h2v1h-2zM86 449h2v1h-2zM57 474h3v1h-3zM45 477h4v1h-4zM228 351h2v1h-2zM1093 317h4v1h-4zM5 510h2v1h-2zM194 385h2v1h-2zM62 472h2v1h-2zM383 126h2v1h-2zM805 414h1v2h-1zM1032 305h1v1h-1zM210 367h1v1h-1zM483 364h1v2h-1zM491 377h1v1h-1zM357 148h1v2h-1zM406 161h1v3h-1zM790 435h1v1h-1zM577 398h1v2h-1zM466 319h1v3h-1zM205 373h1v2h-1zM348 165h1v2h-1zM588 413h1v1h-1zM412 177h1v3h-1zM292 270h1v2h-1zM448 270h1v3h-1zM420 199h1v2h-1zM202 377h1v1h-1zM284 284h1v2h-1zM257 331h1v1h-1zM480 356h1v3h-1zM260 327h1v2h-1zM361 141h1v2h-1zM364 136h1v2h-1zM801 421h1v2h-1zM729 415h1v1h-1zM426 215h1v2h-1zM353 155h1v2h-1zM836 361h1v2h-1zM462 308h1v3h-1zM174 400h1v1h-1zM24 492h1v1h-1zM1028 302h1v1h-1zM743 426h1v1h-1zM197 383h1v1h-1zM332 198h1v2h-1zM344 173h1v2h-1zM444 259h1v3h-1zM817 393h1v2h-1zM864 325h1v2h-1zM213 364h1v1h-1zM324 213h1v2h-1zM244 342h1v1h-1zM476 345h1v3h-1zM116 431h1v1h-1zM391 132h1v1h-1zM690 419h1v1h-1zM399 144h1v3h-1zM280 291h1v2h-1zM360 143h1v2h-1zM599 425h1v2h-1zM486 369h1v2h-1zM458 297h1v3h-1zM272 306h1v2h-1zM570 390h1v1h-1zM74 460h1v2h-1zM120 428h1v1h-1zM304 247h1v3h-1zM832 368h1v2h-1zM352 157h1v2h-1zM433 231h1v2h-1zM750 433h1v1h-1zM824 382h1v2h-1zM328 206h1v2h-1zM416 188h1v3h-1zM562 382h1v1h-1zM490 375h1v2h-1zM434 233h1v2h-1zM288 277h1v2h-1zM728 414h1v1h-1zM840 354h1v2h-1zM860 331h1v2h-1zM472 335h1v2h-1zM687 422h1v2h-1zM813 400h1v2h-1zM751 434h1v1h-1zM69 467h1v1h-1zM276 298h1v2h-1zM678 431h1v1h-1zM356 150h1v2h-1zM740 424h1v1h-1zM419 196h1v3h-1zM336 190h1v2h-1zM788 437h1v1h-1zM440 248h1v3h-1zM682 428h1v1h-1zM315 226h1v1h-1zM671 437h1v1h-1zM820 388h1v2h-1zM517 379h1v1h-1zM867 321h1v1h-1zM1027 301h1v1h-1zM569 389h1v1h-1zM295 266h1v1h-1zM31 485h1v1h-1zM339 183h1v3h-1zM461 306h1v2h-1zM812 402h1v2h-1zM469 327h1v3h-1zM454 286h1v3h-1zM415 185h1v3h-1zM92 446h1v1h-1zM77 457h1v1h-1zM267 316h1v2h-1zM576 397h1v1h-1zM408 166h1v3h-1zM398 142h1v2h-1zM299 259h1v2h-1zM368 130h1v1h-1zM852 341h1v1h-1zM311 233h1v2h-1zM816 395h1v2h-1zM465 317h1v2h-1zM580 402h1v2h-1zM808 409h1v2h-1zM19 497h1v1h-1zM422 204h1v3h-1zM1054 313h1v1h-1zM694 415h1v1h-1zM271 308h1v2h-1zM405 158h1v3h-1zM471 332h1v3h-1zM343 175h1v2h-1zM1024 299h1v1h-1zM34 482h1v1h-1zM739 423h1v1h-1zM263 323h1v1h-1zM331 200h1v2h-1zM591 416h1v2h-1zM14 503h1v1h-1zM320 219h1v1h-1zM3 512h1v1h-1zM447 267h1v3h-1zM166 408h1v1h-1zM872 314h1v1h-1zM831 370h1v2h-1zM804 416h1v2h-1zM7 509h1v1h-1zM401 149h1v2h-1zM437 240h1v3h-1zM303 250h1v2h-1zM855 337h1v2h-1zM478 350h1v3h-1zM327 208h1v1h-1zM598 424h1v1h-1zM443 256h1v3h-1zM451 278h1v3h-1zM68 468h1v2h-1zM827 378h1v1h-1zM275 300h1v2h-1zM475 342h1v3h-1zM26 490h1v1h-1zM338 186h1v2h-1zM482 361h1v3h-1zM1023 298h1v1h-1zM753 436h1v2h-1zM314 227h1v2h-1zM81 453h1v1h-1zM291 272h1v1h-1zM457 295h1v2h-1zM843 349h1v1h-1zM863 327h1v1h-1zM323 215h1v1h-1zM866 322h1v2h-1zM215 361h1v2h-1zM727 412h1v2h-1zM754 438h1v1h-1zM411 174h1v3h-1zM590 415h1v1h-1zM173 401h1v1h-1zM708 407h1v1h-1zM731 418h1v1h-1zM367 131h1v2h-1zM298 261h1v2h-1zM453 284h1v2h-1zM425 212h1v3h-1zM310 235h1v2h-1zM712 404h1v1h-1zM839 356h1v1h-1zM287 279h1v1h-1zM243 343h1v1h-1zM400 147h1v2h-1zM347 167h1v2h-1zM557 377h1v1h-1zM467 322h1v3h-1zM335 192h1v2h-1zM270 310h1v2h-1zM204 375h1v1h-1zM382 125h1v1h-1zM802 419h1v2h-1zM302 252h1v3h-1zM579 401h1v1h-1zM259 329h1v1h-1zM96 442h1v1h-1zM262 324h1v2h-1zM397 140h1v2h-1zM294 267h1v2h-1zM432 229h1v2h-1zM283 286h1v1h-1zM835 363h1v1h-1zM492 378h1v1h-1zM583 406h1v2h-1zM464 314h1v3h-1zM481 359h1v2h-1zM199 380h1v2h-1zM246 340h1v1h-1zM266 318h1v2h-1zM798 426h1v1h-1zM692 417h1v1h-1zM854 339h1v1h-1zM421 201h1v3h-1zM439 246h1v2h-1zM429 222h1v2h-1zM212 365h1v1h-1zM250 337h1v1h-1zM460 303h1v3h-1zM351 159h1v2h-1zM196 384h1v1h-1zM823 384h1v1h-1zM424 209h1v3h-1zM274 302h1v2h-1zM826 379h1v2h-1zM119 429h1v1h-1zM76 458h1v1h-1zM342 177h1v2h-1zM556 376h1v1h-1zM207 371h1v1h-1zM689 420h1v1h-1zM71 464h1v2h-1zM365 134h1v2h-1zM815 397h1v1h-1zM862 328h1v2h-1zM1063 319h1v1h-1zM874 311h1v2h-1zM393 134h1v1h-1zM830 372h1v2h-1zM684 426h1v1h-1zM456 292h1v3h-1zM1064 320h1v1h-1zM442 254h1v2h-1zM414 182h1v3h-1zM601 428h1v1h-1zM172 402h1v2h-1zM431 226h1v3h-1zM33 483h1v1h-1zM563 383h1v1h-1zM857 335h1v1h-1zM582 405h1v1h-1zM1007 298h1v1h-1zM470 330h1v2h-1zM564 384h1v1h-1zM286 280h1v2h-1zM176 397h1v1h-1zM811 404h1v1h-1zM838 357h1v2h-1zM730 416h1v2h-1zM179 393h1v1h-1zM79 455h1v1h-1zM346 169h1v2h-1zM438 243h1v3h-1zM428 220h1v2h-1zM809 407h1v2h-1zM326 209h1v2h-1zM418 193h1v3h-1zM446 264h1v3h-1zM269 312h1v2h-1zM370 126h1v2h-1zM305 245h1v2h-1zM337 188h1v2h-1zM410 172h1v2h-1zM21 495h1v1h-1zM392 133h1v1h-1zM290 273h1v2h-1zM842 350h1v2h-1zM845 347h1v1h-1zM571 391h1v1h-1zM600 427h1v1h-1zM834 364h1v2h-1zM282 287h1v2h-1zM452 281h1v3h-1zM396 138h1v2h-1zM330 202h1v2h-1zM309 237h1v2h-1zM322 216h1v2h-1zM435 235h1v3h-1zM794 432h1v1h-1zM265 320h1v1h-1zM752 435h1v1h-1zM474 340h1v2h-1zM278 294h1v2h-1zM586 410h1v2h-1zM317 223h1v1h-1zM822 385h1v2h-1zM869 318h1v1h-1zM403 153h1v3h-1zM592 418h1v1h-1zM341 179h1v2h-1zM675 434h1v1h-1zM521 376h1v1h-1zM98 440h1v1h-1zM593 419h1v1h-1zM409 169h1v3h-1zM1059 316h1v1h-1zM219 357h1v1h-1zM28 488h1v1h-1zM301 255h1v2h-1zM849 344h1v1h-1zM1060 317h1v1h-1zM829 374h1v2h-1zM313 229h1v2h-1zM83 451h1v1h-1zM459 300h1v3h-1zM797 427h1v2h-1zM293 269h1v1h-1zM395 136h1v2h-1zM581 404h1v1h-1zM423 207h1v2h-1zM214 363h1v1h-1zM441 251h1v3h-1zM175 398h1v2h-1zM198 382h1v1h-1zM297 263h1v1h-1zM13 504h1v1h-1zM273 304h1v2h-1zM345 171h1v2h-1zM16 500h1v1h-1zM455 289h1v3h-1zM473 337h1v3h-1zM463 311h1v3h-1zM430 224h1v2h-1zM691 418h1v1h-1zM369 128h1v2h-1zM170 405h1v1h-1zM711 405h1v1h-1zM427 217h1v3h-1zM755 439h1v1h-1zM841 352h1v2h-1zM289 275h1v2h-1zM11 506h1v1h-1zM833 366h1v2h-1zM329 204h1v2h-1zM686 424h1v1h-1zM718 404h1v1h-1zM206 372h1v1h-1zM308 239h1v2h-1zM388 129h1v1h-1zM573 393h1v2h-1zM261 326h1v1h-1zM70 466h1v1h-1zM1020 296h1v1h-1zM668 439h1v1h-1zM252 335h1v1h-1zM285 282h1v2h-1zM837 359h1v2h-1zM558 378h1v1h-1zM178 394h1v2h-1zM574 395h1v1h-1zM484 366h1v2h-1zM559 379h1v1h-1zM325 211h1v2h-1zM93 445h1v1h-1zM865 324h1v1h-1zM217 359h1v1h-1zM245 341h1v1h-1zM268 314h1v2h-1zM853 340h1v1h-1zM800 423h1v1h-1zM340 181h1v2h-1zM698 412h1v1h-1zM23 493h1v1h-1zM413 180h1v2h-1zM479 353h1v3h-1zM584 408h1v1h-1zM249 338h1v1h-1zM603 430h1v1h-1zM78 456h1v1h-1zM565 385h1v1h-1zM209 368h1v2h-1zM606 432h1v1h-1zM387 128h1v1h-1zM585 409h1v1h-1zM300 257h1v2h-1zM825 381h1v1h-1zM828 376h1v2h-1zM312 231h1v2h-1zM279 293h1v1h-1zM566 386h1v1h-1zM264 321h1v2h-1zM796 429h1v2h-1zM73 462h1v1h-1zM402 151h1v2h-1zM789 436h1v1h-1zM316 224h1v2h-1zM683 427h1v1h-1zM859 333h1v1h-1zM319 220h1v2h-1zM394 135h1v1h-1zM296 264h1v2h-1zM868 319h1v2h-1zM871 315h1v2h-1zM201 378h1v1h-1zM724 408h1v2h-1zM516 380h1v1h-1zM30 486h1v1h-1zM404 156h1v2h-1zM182 391h1v1h-1zM1035 307h1v1h-1zM725 410h1v1h-1zM307 241h1v2h-1zM97 441h1v1h-1zM594 420h1v1h-1zM359 145h1v1h-1zM436 238h1v2h-1zM15 501h1v2h-1zM595 421h1v1h-1zM18 498h1v1h-1zM807 411h1v1h-1zM468 325h1v2h-1zM450 275h1v3h-1zM363 138h1v1h-1zM602 429h1v1h-1zM677 432h1v1h-1zM747 429h1v1h-1zM856 336h1v1h-1zM355 152h1v1h-1zM165 409h1v1h-1zM803 418h1v1h-1zM819 390h1v1h-1zM851 342h1v1h-1zM587 412h1v1h-1zM27 489h1v1h-1zM844 348h1v1h-1zM227 352h1v1h-1zM150 416h1v1h-1zM1004 300h1v1h-1zM799 424h1v2h-1zM572 392h1v1h-1zM1008 297h1v1h-1zM177 396h1v1h-1zM80 454h1v1h-1zM390 131h1v1h-1zM693 416h1v1h-1zM1031 304h1v1h-1zM350 161h1v2h-1zM681 429h1v1h-1zM169 406h1v1h-1zM561 381h1v1h-1zM208 370h1v1h-1zM334 194h1v2h-1zM254 333h1v1h-1zM795 431h1v1h-1zM203 376h1v1h-1zM95 443h1v1h-1zM258 330h1v1h-1zM362 139h1v2h-1zM216 360h1v1h-1zM25 491h1v1h-1zM251 336h1v1h-1zM306 243h1v2h-1zM697 413h1v1h-1zM22 494h1v1h-1zM407 164h1v2h-1zM575 396h1v1h-1zM749 431h1v2h-1zM366 133h1v1h-1zM485 368h1v1h-1zM723 407h1v1h-1zM211 366h1v1h-1zM358 146h1v2h-1zM449 273h1v2h-1zM281 289h1v2h-1zM715 402h1v1h-1zM72 463h1v1h-1zM814 398h1v2h-1zM685 425h1v1h-1zM858 334h1v1h-1zM445 262h1v2h-1zM417 191h1v2h-1zM354 153h1v2h-1zM389 130h1v1h-1zM870 317h1v1h-1zM277 296h1v2h-1zM568 388h1v1h-1zM818 391h1v2h-1zM672 436h1v1h-1zM518 378h1v1h-1zM200 379h1v1h-1zM734 420h1v1h-1zM810 405h1v2h-1zM560 380h1v1h-1zM488 372h1v2h-1zM99 439h1v1h-1zM846 346h1v1h-1zM489 374h1v1h-1zM333 196h1v2h-1zM688 421h1v1h-1zM850 343h1v1h-1zM806 412h1v2h-1zM567 387h1v1h-1zM495 380h1v1h-1zM861 330h1v1h-1zM75 459h1v1h-1zM349 163h1v2h-1zM496 381h1v1h-1zM477 348h1v2h-1zM318 222h1v1h-1zM32 484h1v1h-1zM4 511h1v1h-1zM793 433h1v1h-1zM873 313h1v1h-1zM676 433h1v1h-1zM522 375h1v1h-1zM596 422h1v1h-1zM164 410h1v1h-1zM597 423h1v1h-1zM821 387h1v1h-1zM487 371h1v1h-1zM29 487h1v1h-1zM578 400h1v1h-1zM748 430h1v1h-1zM20 496h1v1h-1zM726 411h1v1h-1zM238 346h1v1h-1zM218 358h1v1h-1zM253 334h1v1h-1zM82 452h1v1h-1zM321 218h1v1h-1zM222 355h1v1h-1zM17 499h1v1h-1zM589 414h1v1h-1zM94 444h1v1h-1zM8 508h1v1h-1zM171 404h1v1h-1zM744 427h1v1h-1zM12 505h1v1h-1z" fill="#ff0000"/>
<path d="M458 399h5v1h-5zM755 473h9v1h-9zM147 390h2v1h-2zM162 390h10v1h-10zM684 390h2v1h-2zM1081 323h2v1h-2zM202 363h2v1h-2zM539 363h2v1h-2zM151 388h3v1h-3zM157 388h2v1h-2zM477 388h2v1h-2zM679 388h3v1h-3zM128 407h2v1h-2zM529 356h2v1h-2zM981 298h2v1h-2zM200 364h2v1h-2zM541 364h4v1h-4zM59 445h2v1h-2zM89 445h2v1h-2zM1042 320h2v1h-2zM1058 320h2v1h-2zM1087 320h3v1h-3zM988 303h2v1h-2zM63 447h3v1h-3zM237 316h4v1h-4zM1008 316h2v1h-2zM1013 316h4v1h-4zM1020 316h2v1h-2zM1050 316h2v1h-2zM103 435h2v1h-2zM997 309h2v1h-2zM1112 309h2v1h-2zM456 398h2v1h-2zM463 398h5v1h-5zM241 317h3v1h-3zM1010 317h3v1h-3zM1022 317h2v1h-2zM1033 317h4v1h-4zM1048 317h2v1h-2zM1052 317h2v1h-2zM1093 317h2v1h-2zM841 273h2v1h-2zM955 273h2v1h-2zM482 386h5v1h-5zM675 386h2v1h-2zM937 301h2v1h-2zM985 301h2v1h-2zM198 365h2v1h-2zM545 365h4v1h-4zM229 314h4v1h-4zM1004 314h2v1h-2zM1097 314h2v1h-2zM1024 318h2v1h-2zM1029 318h4v1h-4zM1037 318h2v1h-2zM1046 318h2v1h-2zM1054 318h2v1h-2zM1085 321h2v1h-2zM1063 324h2v1h-2zM1079 324h2v1h-2zM61 446h2v1h-2zM49 438h3v1h-3zM837 276h2v1h-2zM927 308h2v1h-2zM487 385h5v1h-5zM55 442h2v1h-2zM85 442h2v1h-2zM95 442h2v1h-2zM45 439h4v1h-4zM494 383h2v1h-2zM607 499h2v1h-2zM533 359h2v1h-2zM360 99h2v1h-2zM961 275h3v1h-3zM191 367h5v1h-5zM551 367h3v1h-3zM149 389h2v1h-2zM159 389h3v1h-3zM475 389h2v1h-2zM682 389h2v1h-2zM356 101h2v1h-2zM187 368h4v1h-4zM554 368h2v1h-2zM340 108h2v1h-2zM1083 322h2v1h-2zM957 274h4v1h-4zM712 415h2v1h-2zM452 396h2v1h-2zM496 382h2v1h-2zM233 315h4v1h-4zM1006 315h2v1h-2zM1017 315h3v1h-3zM43 440h2v1h-2zM75 440h9v1h-9zM196 366h2v1h-2zM549 366h2v1h-2zM1108 311h2v1h-2zM454 397h2v1h-2zM993 306h2v1h-2zM610 501h2v1h-2zM351 103h3v1h-3zM492 384h2v1h-2zM737 455h2v1h-2zM126 406h2v1h-2zM133 406h2v1h-2zM137 403h2v1h-2zM1026 319h3v1h-3zM1039 319h3v1h-3zM1044 319h2v1h-2zM1056 319h2v1h-2zM1090 319h2v1h-2zM498 381h2v1h-2zM263 290h2v1h-2zM1067 327h9v1h-9zM932 304h2v1h-2zM733 452h2v1h-2zM708 413h2v1h-2zM66 448h2v1h-2zM1001 312h2v1h-2zM1103 312h5v1h-5zM689 393h2v1h-2zM687 392h2v1h-2zM227 313h2v1h-2zM1099 313h4v1h-4zM991 305h2v1h-2zM130 408h2v1h-2zM710 414h2v1h-2zM344 106h2v1h-2zM124 405h2v1h-2zM39 443h2v1h-2zM1076 326h2v1h-2zM365 96h2v1h-2zM525 353h2v1h-2zM342 107h2v1h-2zM369 93h2v1h-2zM1110 310h2v1h-2zM349 104h2v1h-2zM346 105h3v1h-3zM714 416h2v1h-2zM537 362h2v1h-2zM154 387h3v1h-3zM479 387h3v1h-3zM677 387h2v1h-2zM935 302h2v1h-2zM362 98h2v1h-2zM703 409h2v1h-2zM358 100h2v1h-2zM354 102h2v1h-2zM591 472h1v2h-1zM798 391h1v4h-1zM594 477h1v2h-1zM293 221h1v3h-1zM327 134h1v3h-1zM21 472h1v2h-1zM753 471h1v1h-1zM1062 323h1v1h-1zM754 472h1v1h-1zM404 205h1v6h-1zM941 297h1v2h-1zM397 171h1v5h-1zM427 342h1v4h-1zM420 300h1v6h-1zM633 447h1v2h-1zM101 437h1v1h-1zM311 167h1v3h-1zM891 333h1v1h-1zM17 480h1v2h-1zM641 423h1v3h-1zM802 375h1v4h-1zM694 398h1v1h-1zM288 239h1v3h-1zM695 399h1v2h-1zM298 204h1v4h-1zM720 427h1v3h-1zM423 318h1v6h-1zM390 141h1v4h-1zM583 458h1v2h-1zM853 283h1v2h-1zM615 491h1v2h-1zM108 430h1v2h-1zM391 145h1v4h-1zM417 282h1v6h-1zM944 294h1v1h-1zM789 420h1v3h-1zM765 471h1v1h-1zM444 385h1v2h-1zM410 240h1v6h-1zM805 361h1v5h-1zM326 137h1v2h-1zM338 111h1v2h-1zM623 472h1v2h-1zM448 391h1v1h-1zM558 377h1v3h-1zM612 499h1v2h-1zM383 116h1v3h-1zM302 192h1v3h-1zM897 339h1v1h-1zM898 340h1v1h-1zM309 172h1v3h-1zM561 386h1v4h-1zM632 449h1v3h-1zM386 126h1v4h-1zM562 390h1v3h-1zM809 343h1v5h-1zM15 484h1v3h-1zM913 324h1v1h-1zM800 383h1v4h-1zM826 292h1v2h-1zM296 211h1v3h-1zM436 370h1v2h-1zM512 366h1v1h-1zM437 372h1v2h-1zM593 475h1v2h-1zM596 480h1v2h-1zM557 373h1v4h-1zM867 306h1v1h-1zM531 357h1v1h-1zM622 474h1v2h-1zM119 411h1v2h-1zM419 294h1v6h-1zM412 252h1v6h-1zM868 307h1v1h-1zM974 288h1v1h-1zM396 166h1v5h-1zM301 195h1v3h-1zM252 303h1v1h-1zM143 396h1v1h-1zM504 375h1v1h-1zM978 294h1v2h-1zM30 455h1v2h-1zM406 217h1v6h-1zM577 441h1v4h-1zM308 175h1v2h-1zM520 355h1v1h-1zM951 281h1v2h-1zM320 149h1v2h-1zM578 445h1v4h-1zM332 123h1v2h-1zM697 402h1v1h-1zM619 480h1v3h-1zM14 487h1v2h-1zM584 460h1v2h-1zM26 462h1v2h-1zM585 462h1v2h-1zM409 234h1v6h-1zM295 214h1v4h-1zM316 156h1v2h-1zM204 360h1v2h-1zM907 332h1v1h-1zM402 195h1v5h-1zM10 495h1v1h-1zM367 95h1v1h-1zM446 388h1v1h-1zM646 412h1v2h-1zM779 446h1v3h-1zM571 418h1v3h-1zM873 312h1v1h-1zM255 299h1v1h-1zM146 391h1v2h-1zM729 446h1v2h-1zM659 388h1v2h-1zM450 393h1v2h-1zM730 448h1v2h-1zM574 429h1v4h-1zM212 342h1v3h-1zM606 498h1v1h-1zM250 305h1v2h-1zM786 428h1v2h-1zM270 283h1v1h-1zM118 413h1v2h-1zM642 420h1v3h-1zM382 112h1v4h-1zM775 455h1v3h-1zM899 341h1v1h-1zM283 257h1v3h-1zM428 346h1v3h-1zM421 306h1v6h-1zM803 370h1v5h-1zM299 201h1v3h-1zM795 403h1v4h-1zM246 312h1v1h-1zM431 355h1v4h-1zM94 443h1v1h-1zM398 176h1v5h-1zM114 420h1v2h-1zM629 458h1v2h-1zM307 177h1v3h-1zM930 306h1v1h-1zM408 228h1v6h-1zM184 373h1v2h-1zM950 283h1v2h-1zM399 181h1v4h-1zM331 125h1v3h-1zM25 464h1v2h-1zM468 397h1v1h-1zM715 417h1v1h-1zM438 374h1v2h-1zM807 352h1v5h-1zM180 380h1v2h-1zM946 291h1v1h-1zM315 158h1v2h-1zM626 466h1v2h-1zM304 186h1v3h-1zM425 330h1v6h-1zM175 386h1v1h-1zM418 288h1v6h-1zM976 291h1v1h-1zM658 390h1v2h-1zM870 309h1v1h-1zM977 292h1v2h-1zM223 318h1v2h-1zM980 297h1v1h-1zM282 260h1v2h-1zM563 393h1v3h-1zM388 133h1v4h-1zM219 324h1v2h-1zM782 438h1v3h-1zM949 285h1v2h-1zM401 190h1v5h-1zM36 446h1v1h-1zM731 450h1v1h-1zM179 382h1v1h-1zM945 292h1v2h-1zM314 160h1v2h-1zM790 417h1v3h-1zM728 444h1v2h-1zM625 468h1v2h-1zM122 405h1v2h-1zM743 460h1v2h-1zM876 315h1v1h-1zM339 109h1v2h-1zM32 452h1v2h-1zM887 328h1v2h-1zM831 284h1v2h-1zM522 352h1v2h-1zM222 320h1v1h-1zM323 143h1v2h-1zM335 117h1v2h-1zM705 410h1v1h-1zM290 231h1v4h-1zM517 359h1v1h-1zM706 411h1v1h-1zM717 420h1v2h-1zM769 467h1v1h-1zM781 441h1v3h-1zM218 326h1v3h-1zM843 272h1v1h-1zM925 310h1v1h-1zM823 298h1v2h-1zM257 296h1v2h-1zM906 333h1v1h-1zM857 290h1v2h-1zM121 407h1v2h-1zM394 157h1v4h-1zM285 249h1v4h-1zM69 446h1v1h-1zM901 339h1v1h-1zM524 352h1v1h-1zM893 335h1v1h-1zM575 433h1v4h-1zM796 399h1v4h-1zM990 304h1v1h-1zM894 336h1v1h-1zM917 319h1v1h-1zM117 415h1v2h-1zM322 145h1v2h-1zM334 119h1v2h-1zM912 325h1v1h-1zM186 369h1v2h-1zM701 407h1v1h-1zM387 130h1v3h-1zM516 360h1v2h-1zM433 362h1v3h-1zM702 408h1v1h-1zM400 185h1v5h-1zM217 329h1v2h-1zM318 152h1v2h-1zM275 275h1v2h-1zM379 103h1v2h-1zM822 300h1v2h-1zM380 105h1v4h-1zM256 298h1v1h-1zM73 442h1v1h-1zM636 438h1v3h-1zM788 423h1v2h-1zM426 336h1v6h-1zM284 253h1v4h-1zM142 397h1v2h-1zM818 308h1v4h-1zM413 258h1v6h-1zM618 483h1v2h-1zM185 371h1v2h-1zM792 412h1v3h-1zM469 396h1v1h-1zM722 432h1v2h-1zM203 362h1v1h-1zM215 334h1v3h-1zM845 274h1v1h-1zM663 383h1v1h-1zM723 434h1v2h-1zM328 132h1v2h-1zM856 288h1v2h-1zM813 327h1v4h-1zM859 294h1v1h-1zM181 378h1v2h-1zM274 277h1v2h-1zM22 470h1v2h-1zM635 441h1v3h-1zM821 302h1v2h-1zM102 436h1v1h-1zM895 337h1v1h-1zM939 300h1v1h-1zM896 338h1v1h-1zM99 439h1v1h-1zM655 396h1v2h-1zM566 402h1v3h-1zM771 464h1v2h-1zM415 270h1v6h-1zM567 405h1v4h-1zM432 359h1v3h-1zM766 470h1v1h-1zM287 242h1v4h-1zM439 376h1v2h-1zM442 382h1v2h-1zM614 493h1v3h-1zM836 277h1v1h-1zM34 448h1v2h-1zM609 500h1v1h-1zM395 161h1v5h-1zM405 211h1v6h-1zM987 302h1v1h-1zM211 345h1v3h-1zM654 398h1v2h-1zM816 316h1v4h-1zM721 430h1v2h-1zM278 269h1v2h-1zM41 442h1v1h-1zM638 432h1v3h-1zM650 405h1v2h-1zM587 466h1v1h-1zM510 368h1v1h-1zM739 456h1v1h-1zM872 311h1v1h-1zM604 496h1v1h-1zM536 361h1v1h-1zM559 380h1v3h-1zM605 497h1v1h-1zM384 119h1v4h-1zM811 335h1v4h-1zM521 354h1v1h-1zM983 299h1v1h-1zM430 352h1v3h-1zM310 170h1v2h-1zM414 264h1v6h-1zM16 482h1v2h-1zM210 348h1v2h-1zM407 223h1v5h-1zM136 404h1v1h-1zM910 328h1v1h-1zM440 378h1v2h-1zM905 334h1v1h-1zM8 497h1v1h-1zM597 482h1v2h-1zM120 409h1v2h-1zM509 369h1v2h-1zM964 276h1v1h-1zM735 453h1v1h-1zM921 314h1v1h-1zM3 503h1v1h-1zM611 502h1v1h-1zM810 339h1v4h-1zM916 320h1v1h-1zM54 441h1v1h-1zM785 430h1v3h-1zM952 279h1v2h-1zM333 121h1v2h-1zM92 445h1v1h-1zM317 154h1v2h-1zM416 276h1v6h-1zM568 409h1v3h-1zM205 358h1v2h-1zM589 469h1v2h-1zM260 293h1v1h-1zM572 421h1v4h-1zM741 458h1v1h-1zM7 498h1v2h-1zM874 313h1v1h-1zM797 395h1v4h-1zM527 354h1v1h-1zM875 314h1v1h-1zM300 198h1v3h-1zM429 349h1v3h-1zM267 287h1v1h-1zM1114 308h1v1h-1zM473 391h1v1h-1zM667 378h1v1h-1zM111 425h1v2h-1zM371 92h1v1h-1zM595 479h1v1h-1zM107 432h1v1h-1zM736 454h1v1h-1zM943 295h1v1h-1zM966 278h1v1h-1zM832 283h1v1h-1zM774 458h1v2h-1zM172 389h1v1h-1zM385 123h1v3h-1zM220 322h1v2h-1zM699 405h1v1h-1zM808 348h1v4h-1zM700 406h1v1h-1zM847 276h1v1h-1zM848 277h1v1h-1zM556 370h1v3h-1zM303 189h1v3h-1zM732 451h1v1h-1zM33 450h1v2h-1zM877 316h1v2h-1zM621 476h1v2h-1zM29 457h1v2h-1zM915 321h1v1h-1zM503 376h1v2h-1zM281 262h1v2h-1zM653 400h1v2h-1zM580 452h1v2h-1zM718 422h1v3h-1zM13 489h1v2h-1zM207 354h1v2h-1zM514 363h1v1h-1zM707 412h1v1h-1zM649 407h1v2h-1zM424 324h1v6h-1zM724 436h1v2h-1zM74 441h1v1h-1zM858 292h1v2h-1zM645 414h1v2h-1zM411 246h1v6h-1zM71 444h1v1h-1zM620 478h1v2h-1zM953 277h1v2h-1zM28 459h1v2h-1zM691 394h1v1h-1zM135 405h1v1h-1zM470 395h1v1h-1zM245 313h1v2h-1zM93 444h1v1h-1zM330 128h1v2h-1zM664 382h1v1h-1zM434 365h1v3h-1zM909 329h1v1h-1zM929 307h1v1h-1zM12 491h1v2h-1zM850 279h1v1h-1zM24 466h1v2h-1zM513 364h1v2h-1zM806 357h1v4h-1zM648 409h1v2h-1zM904 335h1v1h-1zM451 395h1v1h-1zM1065 325h1v1h-1zM272 280h1v1h-1zM364 97h1v1h-1zM1095 316h1v1h-1zM214 337h1v3h-1zM878 318h1v1h-1zM644 416h1v2h-1zM879 319h1v1h-1zM100 438h1v1h-1zM174 387h1v1h-1zM116 417h1v2h-1zM268 285h1v2h-1zM716 418h1v2h-1zM579 449h1v3h-1zM244 315h1v2h-1zM948 287h1v2h-1zM329 130h1v2h-1zM23 468h1v2h-1zM860 295h1v2h-1zM403 200h1v5h-1zM313 162h1v3h-1zM999 310h1v1h-1zM213 340h1v2h-1zM292 224h1v4h-1zM834 279h1v2h-1zM1000 311h1v1h-1zM57 443h1v1h-1zM564 396h1v3h-1zM422 312h1v6h-1zM58 444h1v1h-1zM830 286h1v1h-1zM693 397h1v1h-1zM87 443h1v1h-1zM88 444h1v1h-1zM791 415h1v2h-1zM852 281h1v2h-1zM947 289h1v2h-1zM106 433h1v1h-1zM942 296h1v1h-1zM634 444h1v3h-1zM599 486h1v2h-1zM312 165h1v2h-1zM881 321h1v2h-1zM995 307h1v1h-1zM804 366h1v4h-1zM996 308h1v1h-1zM52 439h1v1h-1zM53 440h1v1h-1zM844 273h1v1h-1zM515 362h1v1h-1zM37 445h1v1h-1zM588 467h1v2h-1zM286 246h1v3h-1zM922 313h1v1h-1zM968 280h1v1h-1zM613 496h1v3h-1zM862 298h1v2h-1zM969 281h1v1h-1zM381 109h1v3h-1zM740 457h1v1h-1zM560 383h1v3h-1zM141 399h1v1h-1zM914 322h1v2h-1zM518 358h1v1h-1zM617 485h1v3h-1zM132 407h1v1h-1zM206 356h1v2h-1zM261 292h1v1h-1zM815 320h1v3h-1zM277 271h1v2h-1zM637 435h1v3h-1zM926 309h1v1h-1zM441 380h1v2h-1zM777 451h1v2h-1zM601 490h1v2h-1zM253 301h1v2h-1zM70 445h1v1h-1zM144 394h1v2h-1zM273 279h1v1h-1zM902 338h1v1h-1zM598 484h1v2h-1zM1092 318h1v1h-1zM883 324h1v1h-1zM576 437h1v4h-1zM474 390h1v1h-1zM249 307h1v2h-1zM140 400h1v2h-1zM112 424h1v1h-1zM565 399h1v3h-1zM672 383h1v1h-1zM289 235h1v4h-1zM814 323h1v4h-1zM846 275h1v1h-1zM11 493h1v2h-1zM628 460h1v3h-1zM306 180h1v3h-1zM586 464h1v2h-1zM864 301h1v2h-1zM555 369h1v1h-1zM776 453h1v2h-1zM971 283h1v1h-1zM226 314h1v2h-1zM20 474h1v2h-1zM173 388h1v1h-1zM221 321h1v1h-1zM115 419h1v1h-1zM784 433h1v3h-1zM801 379h1v4h-1zM297 208h1v3h-1zM719 425h1v2h-1zM627 463h1v3h-1zM372 93h1v2h-1zM393 153h1v4h-1zM447 389h1v2h-1zM748 466h1v1h-1zM177 384h1v1h-1zM325 139h1v2h-1zM337 113h1v2h-1zM631 452h1v3h-1zM817 312h1v4h-1zM829 287h1v2h-1zM783 436h1v2h-1zM770 466h1v1h-1zM389 137h1v4h-1zM674 385h1v1h-1zM840 274h1v1h-1zM435 368h1v2h-1zM825 294h1v2h-1zM767 469h1v1h-1zM812 331h1v4h-1zM973 286h1v2h-1zM744 462h1v1h-1zM984 300h1v1h-1zM1003 313h1v1h-1zM324 141h1v2h-1zM336 115h1v2h-1zM291 228h1v3h-1zM828 289h1v2h-1zM519 356h1v2h-1zM581 454h1v2h-1zM91 446h1v1h-1zM824 296h1v2h-1zM374 96h1v1h-1zM725 438h1v2h-1zM799 387h1v4h-1zM392 149h1v4h-1zM965 277h1v1h-1zM750 468h1v1h-1zM778 449h1v2h-1zM573 425h1v4h-1zM751 469h1v1h-1zM979 296h1v1h-1zM794 407h1v2h-1zM692 395h1v2h-1zM183 375h1v1h-1zM854 285h1v2h-1zM742 459h1v1h-1zM661 385h1v2h-1zM835 278h1v1h-1zM819 306h1v2h-1zM4 502h1v1h-1zM657 392h1v2h-1zM773 460h1v2h-1zM248 309h1v1h-1zM139 402h1v1h-1zM686 391h1v1h-1zM97 441h1v1h-1zM668 379h1v1h-1zM793 409h1v3h-1zM305 183h1v3h-1zM182 376h1v2h-1zM616 488h1v3h-1zM376 99h1v1h-1zM727 442h1v2h-1zM967 279h1v1h-1zM885 326h1v1h-1zM225 316h1v1h-1zM861 297h1v1h-1zM624 470h1v2h-1zM19 476h1v2h-1zM656 394h1v2h-1zM772 462h1v2h-1zM280 264h1v2h-1zM652 402h1v2h-1zM640 426h1v3h-1zM38 444h1v1h-1zM535 360h1v1h-1zM600 488h1v2h-1zM833 281h1v2h-1zM603 494h1v2h-1zM18 478h1v2h-1zM882 323h1v1h-1zM321 147h1v2h-1zM670 381h1v1h-1zM279 266h1v3h-1zM639 429h1v3h-1zM651 404h1v1h-1zM671 382h1v1h-1zM259 294h1v1h-1zM216 331h1v3h-1zM570 415h1v3h-1zM908 330h1v2h-1zM378 101h1v2h-1zM254 300h1v1h-1zM145 393h1v1h-1zM647 411h1v1h-1zM863 300h1v1h-1zM903 336h1v2h-1zM866 304h1v2h-1zM919 316h1v2h-1zM507 372h1v1h-1zM970 282h1v1h-1zM787 425h1v3h-1zM271 281h1v2h-1zM643 418h1v2h-1zM502 378h1v1h-1zM472 392h1v1h-1zM247 310h1v2h-1zM630 455h1v3h-1zM696 401h1v1h-1zM911 326h1v2h-1zM851 280h1v1h-1zM294 218h1v3h-1zM445 387h1v1h-1zM746 464h1v1h-1zM747 465h1v1h-1zM880 320h1v1h-1zM602 492h1v2h-1zM820 304h1v2h-1zM5 501h1v1h-1zM265 289h1v1h-1zM471 393h1v2h-1zM673 384h1v1h-1zM109 428h1v2h-1zM665 380h1v2h-1zM569 412h1v3h-1zM660 387h1v1h-1zM590 471h1v1h-1zM1061 322h1v1h-1zM178 383h1v1h-1zM865 303h1v1h-1zM1096 315h1v1h-1zM972 284h1v2h-1zM890 332h1v1h-1zM532 358h1v1h-1zM975 289h1v2h-1zM698 403h1v2h-1zM768 468h1v1h-1zM582 456h1v2h-1zM443 384h1v1h-1zM373 95h1v1h-1zM224 317h1v1h-1zM749 467h1v1h-1zM528 355h1v1h-1zM209 350h1v2h-1zM501 379h1v1h-1zM84 441h1v1h-1zM123 404h1v1h-1zM592 474h1v1h-1zM780 444h1v2h-1zM276 273h1v2h-1zM72 443h1v1h-1zM955 274h1v1h-1zM892 334h1v1h-1zM523 351h1v1h-1zM208 352h1v2h-1zM258 295h1v1h-1zM662 384h1v1h-1zM923 312h1v1h-1zM375 97h1v2h-1zM511 367h1v1h-1zM726 440h1v2h-1zM449 392h1v1h-1zM918 318h1v1h-1zM884 325h1v1h-1zM506 373h1v1h-1zM954 275h1v2h-1zM98 440h1v1h-1zM934 303h1v1h-1zM319 151h1v1h-1zM262 291h1v1h-1zM1078 325h1v1h-1zM110 427h1v1h-1zM105 434h1v1h-1zM869 308h1v1h-1zM269 284h1v1h-1zM113 422h1v2h-1zM669 380h1v1h-1zM839 275h1v1h-1zM377 100h1v1h-1zM940 299h1v1h-1zM886 327h1v1h-1zM827 291h1v1h-1zM849 278h1v1h-1zM764 472h1v1h-1zM508 371h1v1h-1zM35 447h1v1h-1zM745 463h1v1h-1zM920 315h1v1h-1zM871 310h1v1h-1zM505 374h1v1h-1zM31 454h1v1h-1zM500 380h1v1h-1zM42 441h1v1h-1zM27 461h1v1h-1zM368 94h1v1h-1zM1060 321h1v1h-1zM924 311h1v1h-1zM752 470h1v1h-1zM6 500h1v1h-1zM251 304h1v1h-1zM888 330h1v1h-1zM889 331h1v1h-1zM68 447h1v1h-1zM900 340h1v1h-1zM266 288h1v1h-1zM931 305h1v1h-1zM666 379h1v1h-1zM9 496h1v1h-1zM855 287h1v1h-1zM1066 326h1v1h-1zM176 385h1v1h-1z" fill="#0000c8"/>
</g>
<rect x="763" y="212" width="443" height="4" fill="#ff3333"/>
<rect x="763" y="360" width="443" height="5" fill="#99cc00"/>
<rect x="752" y="437" width="454" height="5" fill="#3790e0"/>
<polygon points="5.8,39 13.4,39 9.6,35.2" fill="#000"/>
<text x="18.5" y="39.5" class="ax" textLength="67.7" lengthAdjust="spacingAndGlyphs">USDCAD-,Daily</text>
<text x="93.4" y="39.5" class="ax" textLength="140" lengthAdjust="spacingAndGlyphs">1.33808 1.33828 1.33702 1.33733</text>
<g><rect x="3" y="609" width="1" height="22" fill="#c0c0c0"/><rect x="11" y="608" width="1" height="23" fill="#c0c0c0"/><rect x="19" y="605" width="1" height="26" fill="#c0c0c0"/><rect x="27" y="604" width="1" height="27" fill="#c0c0c0"/><rect x="35" y="603" width="1" height="28" fill="#c0c0c0"/><rect x="43" y="605" width="1" height="26" fill="#c0c0c0"/><rect x="51" y="608" width="1" height="23" fill="#c0c0c0"/><rect x="59" y="611" width="1" height="20" fill="#c0c0c0"/><rect x="67" y="612" width="1" height="19" fill="#c0c0c0"/><rect x="75" y="608" width="1" height="23" fill="#c0c0c0"/><rect x="83" y="608" width="1" height="23" fill="#c0c0c0"/><rect x="91" y="610" width="1" height="21" fill="#c0c0c0"/><rect x="99" y="610" width="1" height="21" fill="#c0c0c0"/><rect x="107" y="610" width="1" height="21" fill="#c0c0c0"/><rect x="115" y="609" width="1" height="22" fill="#c0c0c0"/><rect x="123" y="607" width="1" height="24" fill="#c0c0c0"/><rect x="131" y="606" width="1" height="25" fill="#c0c0c0"/><rect x="139" y="606" width="1" height="25" fill="#c0c0c0"/><rect x="147" y="606" width="1" height="25" fill="#c0c0c0"/><rect x="155" y="607" width="1" height="24" fill="#c0c0c0"/><rect x="163" y="611" width="1" height="20" fill="#c0c0c0"/><rect x="171" y="612" width="1" height="19" fill="#c0c0c0"/><rect x="179" y="608" width="1" height="23" fill="#c0c0c0"/><rect x="187" y="604" width="1" height="27" fill="#c0c0c0"/><rect x="195" y="605" width="1" height="26" fill="#c0c0c0"/><rect x="203" y="605" width="1" height="26" fill="#c0c0c0"/><rect x="211" y="602" width="1" height="29" fill="#c0c0c0"/><rect x="219" y="601" width="1" height="30" fill="#c0c0c0"/><rect x="227" y="601" width="1" height="30" fill="#c0c0c0"/><rect x="235" y="602" width="1" height="29" fill="#c0c0c0"/><rect x="243" y="602" width="1" height="29" fill="#c0c0c0"/><rect x="251" y="602" width="1" height="29" fill="#c0c0c0"/><rect x="259" y="601" width="1" height="30" fill="#c0c0c0"/><rect x="267" y="598" width="1" height="33" fill="#c0c0c0"/><rect x="275" y="596" width="1" height="35" fill="#c0c0c0"/><rect x="283" y="593" width="1" height="38" fill="#c0c0c0"/><rect x="291" y="587" width="1" height="44" fill="#c0c0c0"/><rect x="299" y="583" width="1" height="48" fill="#c0c0c0"/><rect x="307" y="580" width="1" height="51" fill="#c0c0c0"/><rect x="315" y="579" width="1" height="52" fill="#c0c0c0"/><rect x="323" y="579" width="1" height="52" fill="#c0c0c0"/><rect x="331" y="578" width="1" height="53" fill="#c0c0c0"/><rect x="339" y="576" width="1" height="55" fill="#c0c0c0"/><rect x="347" y="577" width="1" height="54" fill="#c0c0c0"/><rect x="355" y="577" width="1" height="54" fill="#c0c0c0"/><rect x="363" y="579" width="1" height="52" fill="#c0c0c0"/><rect x="371" y="580" width="1" height="51" fill="#c0c0c0"/><rect x="379" y="588" width="1" height="43" fill="#c0c0c0"/><rect x="387" y="599" width="1" height="32" fill="#c0c0c0"/><rect x="395" y="609" width="1" height="22" fill="#c0c0c0"/><rect x="403" y="620" width="1" height="11" fill="#c0c0c0"/><rect x="411" y="630" width="1" height="2" fill="#c0c0c0"/><rect x="419" y="630" width="1" height="13" fill="#c0c0c0"/><rect x="427" y="630" width="1" height="19" fill="#c0c0c0"/><rect x="435" y="630" width="1" height="23" fill="#c0c0c0"/><rect x="443" y="630" width="1" height="26" fill="#c0c0c0"/><rect x="451" y="630" width="1" height="27" fill="#c0c0c0"/><rect x="459" y="630" width="1" height="28" fill="#c0c0c0"/><rect x="467" y="630" width="1" height="29" fill="#c0c0c0"/><rect x="475" y="630" width="1" height="29" fill="#c0c0c0"/><rect x="483" y="630" width="1" height="29" fill="#c0c0c0"/><rect x="491" y="630" width="1" height="28" fill="#c0c0c0"/><rect x="499" y="630" width="1" height="26" fill="#c0c0c0"/><rect x="507" y="630" width="1" height="21" fill="#c0c0c0"/><rect x="515" y="630" width="1" height="18" fill="#c0c0c0"/><rect x="523" y="630" width="1" height="15" fill="#c0c0c0"/><rect x="531" y="630" width="1" height="18" fill="#c0c0c0"/><rect x="539" y="630" width="1" height="21" fill="#c0c0c0"/><rect x="547" y="630" width="1" height="20" fill="#c0c0c0"/><rect x="555" y="630" width="1" height="20" fill="#c0c0c0"/><rect x="563" y="630" width="1" height="25" fill="#c0c0c0"/><rect x="571" y="630" width="1" height="29" fill="#c0c0c0"/><rect x="579" y="630" width="1" height="34" fill="#c0c0c0"/><rect x="587" y="630" width="1" height="37" fill="#c0c0c0"/><rect x="595" y="630" width="1" height="38" fill="#c0c0c0"/><rect x="603" y="630" width="1" height="38" fill="#c0c0c0"/><rect x="611" y="630" width="1" height="33" fill="#c0c0c0"/><rect x="619" y="630" width="1" height="25" fill="#c0c0c0"/><rect x="627" y="630" width="1" height="20" fill="#c0c0c0"/><rect x="635" y="630" width="1" height="16" fill="#c0c0c0"/><rect x="643" y="630" width="1" height="11" fill="#c0c0c0"/><rect x="651" y="630" width="1" height="11" fill="#c0c0c0"/><rect x="659" y="630" width="1" height="9" fill="#c0c0c0"/><rect x="667" y="630" width="1" height="5" fill="#c0c0c0"/><rect x="675" y="630" width="1" height="5" fill="#c0c0c0"/><rect x="683" y="630" width="1" height="5" fill="#c0c0c0"/><rect x="691" y="630" width="1" height="5" fill="#c0c0c0"/><rect x="699" y="630" width="1" height="6" fill="#c0c0c0"/><rect x="707" y="630" width="1" height="9" fill="#c0c0c0"/><rect x="715" y="630" width="1" height="8" fill="#c0c0c0"/><rect x="723" y="630" width="1" height="12" fill="#c0c0c0"/><rect x="731" y="630" width="1" height="15" fill="#c0c0c0"/><rect x="739" y="630" width="1" height="14" fill="#c0c0c0"/><rect x="747" y="630" width="1" height="15" fill="#c0c0c0"/><rect x="755" y="630" width="1" height="16" fill="#c0c0c0"/><rect x="763" y="630" width="1" height="16" fill="#c0c0c0"/><rect x="771" y="630" width="1" height="9" fill="#c0c0c0"/><rect x="779" y="630" width="1" height="5" fill="#c0c0c0"/><rect x="787" y="630" width="1" height="1" fill="#c0c0c0"/><rect x="795" y="624" width="1" height="7" fill="#c0c0c0"/><rect x="803" y="615" width="1" height="16" fill="#c0c0c0"/><rect x="811" y="609" width="1" height="22" fill="#c0c0c0"/><rect x="819" y="606" width="1" height="25" fill="#c0c0c0"/><rect x="827" y="603" width="1" height="28" fill="#c0c0c0"/><rect x="835" y="602" width="1" height="29" fill="#c0c0c0"/><rect x="843" y="604" width="1" height="27" fill="#c0c0c0"/><rect x="851" y="608" width="1" height="23" fill="#c0c0c0"/><rect x="859" y="610" width="1" height="21" fill="#c0c0c0"/><rect x="867" y="611" width="1" height="20" fill="#c0c0c0"/><rect x="875" y="612" width="1" height="19" fill="#c0c0c0"/><rect x="883" y="614" width="1" height="17" fill="#c0c0c0"/><rect x="891" y="615" width="1" height="16" fill="#c0c0c0"/><rect x="899" y="619" width="1" height="12" fill="#c0c0c0"/><rect x="907" y="618" width="1" height="13" fill="#c0c0c0"/><rect x="915" y="615" width="1" height="16" fill="#c0c0c0"/><rect x="923" y="612" width="1" height="19" fill="#c0c0c0"/><rect x="931" y="612" width="1" height="19" fill="#c0c0c0"/><rect x="939" y="613" width="1" height="18" fill="#c0c0c0"/><rect x="947" y="612" width="1" height="19" fill="#c0c0c0"/><rect x="955" y="611" width="1" height="20" fill="#c0c0c0"/><rect x="963" y="613" width="1" height="18" fill="#c0c0c0"/><rect x="971" y="616" width="1" height="15" fill="#c0c0c0"/><rect x="979" y="620" width="1" height="11" fill="#c0c0c0"/><rect x="987" y="621" width="1" height="10" fill="#c0c0c0"/><rect x="995" y="623" width="1" height="8" fill="#c0c0c0"/><rect x="1003" y="623" width="1" height="8" fill="#c0c0c0"/><rect x="1011" y="622" width="1" height="9" fill="#c0c0c0"/><rect x="1019" y="622" width="1" height="9" fill="#c0c0c0"/><rect x="1027" y="625" width="1" height="6" fill="#c0c0c0"/><rect x="1035" y="627" width="1" height="4" fill="#c0c0c0"/><rect x="1043" y="629" width="1" height="2" fill="#c0c0c0"/><rect x="1051" y="627" width="1" height="4" fill="#c0c0c0"/><rect x="1059" y="628" width="1" height="3" fill="#c0c0c0"/><rect x="1067" y="629" width="1" height="2" fill="#c0c0c0"/><rect x="1075" y="628" width="1" height="3" fill="#c0c0c0"/><rect x="1083" y="628" width="1" height="3" fill="#c0c0c0"/><rect x="1091" y="628" width="1" height="3" fill="#c0c0c0"/><rect x="1099" y="627" width="1" height="4" fill="#c0c0c0"/><rect x="1107" y="626" width="1" height="5" fill="#c0c0c0"/><rect x="1115" y="626" width="1" height="5" fill="#c0c0c0"/></g>
<g shape-rendering="crispEdges"><path d="M820 627h2v1h-2zM1083 627h3v1h-3zM39 608h3v1h-3zM45 608h3v1h-3zM51 608h3v1h-3zM87 608h3v1h-3zM93 608h3v1h-3zM99 608h3v1h-3zM135 608h3v1h-3zM141 608h3v1h-3zM147 608h3v1h-3zM153 608h3v1h-3zM159 608h3v1h-3zM165 608h3v1h-3zM171 608h3v1h-3zM177 608h3v1h-3zM867 608h3v1h-3zM879 608h3v1h-3zM885 608h2v1h-2zM711 636h3v1h-3zM717 636h2v1h-2zM802 636h2v1h-2zM33 609h3v1h-3zM105 609h3v1h-3zM111 609h3v1h-3zM117 609h3v1h-3zM123 609h3v1h-3zM129 609h3v1h-3zM861 609h2v1h-2zM891 609h2v1h-2zM1089 628h3v1h-3zM1095 628h3v1h-3zM1101 628h3v1h-3zM1107 628h3v1h-3zM1113 628h2v1h-2zM495 657h3v1h-3zM501 657h2v1h-2zM597 657h3v1h-3zM243 603h3v1h-3zM249 603h3v1h-3zM57 607h3v1h-3zM63 607h3v1h-3zM69 607h3v1h-3zM75 607h3v1h-3zM81 607h3v1h-3zM183 607h3v1h-3zM189 607h3v1h-3zM195 607h3v1h-3zM201 607h3v1h-3zM207 607h3v1h-3zM213 607h2v1h-2zM873 607h3v1h-3zM843 614h2v1h-2zM915 614h3v1h-3zM921 614h3v1h-3zM927 614h3v1h-3zM933 614h3v1h-3zM939 614h3v1h-3zM945 614h3v1h-3zM951 614h3v1h-3zM957 614h3v1h-3zM963 614h3v1h-3zM969 614h3v1h-3zM975 614h3v1h-3zM981 614h2v1h-2zM460 643h2v1h-2zM814 630h2v1h-2zM15 611h3v1h-3zM21 611h2v1h-2zM850 611h2v1h-2zM897 611h3v1h-3zM363 579h3v1h-3zM375 579h3v1h-3zM687 640h2v1h-2zM789 640h3v1h-3zM759 642h3v1h-3zM765 642h3v1h-3zM771 642h3v1h-3zM777 642h3v1h-3zM603 658h2v1h-2zM639 658h2v1h-2zM609 660h3v1h-3zM615 660h3v1h-3zM621 660h3v1h-3zM627 660h3v1h-3zM483 654h2v1h-2zM525 654h2v1h-2zM585 654h3v1h-3zM489 656h3v1h-3zM507 656h3v1h-3zM513 656h3v1h-3zM645 656h3v1h-3zM339 584h2v1h-2zM825 624h2v1h-2zM1041 624h3v1h-3zM1047 624h3v1h-3zM1053 624h2v1h-2zM1011 618h3v1h-3zM297 596h3v1h-3zM309 593h2v1h-2zM705 637h3v1h-3zM723 637h3v1h-3zM729 637h3v1h-3zM231 604h3v1h-3zM237 604h2v1h-2zM472 650h2v1h-2zM555 650h3v1h-3zM561 650h3v1h-3zM567 650h3v1h-3zM999 617h3v1h-3zM1005 617h2v1h-2zM3 612h3v1h-3zM9 612h3v1h-3zM903 612h3v1h-3zM285 599h3v1h-3zM351 580h3v1h-3zM357 580h2v1h-2zM381 580h3v1h-3zM693 639h2v1h-2zM747 639h2v1h-2zM795 639h2v1h-2zM699 638h3v1h-3zM735 638h3v1h-3zM741 638h2v1h-2zM477 652h2v1h-2zM537 652h3v1h-3zM579 652h2v1h-2zM658 652h2v1h-2zM543 651h3v1h-3zM549 651h2v1h-2zM573 651h3v1h-3zM255 602h3v1h-3zM261 602h3v1h-3zM267 602h3v1h-3zM1029 621h2v1h-2zM327 587h2v1h-2zM987 615h3v1h-3zM465 646h2v1h-2zM670 646h2v1h-2zM664 649h2v1h-2zM279 600h3v1h-3zM369 578h3v1h-3zM333 585h3v1h-3zM394 585h2v1h-2zM682 641h2v1h-2zM753 641h3v1h-3zM783 641h3v1h-3zM519 655h2v1h-2zM591 655h2v1h-2zM651 655h2v1h-2zM1065 626h3v1h-3zM1071 626h3v1h-3zM1077 626h2v1h-2zM675 644h2v1h-2zM346 581h2v1h-2zM322 588h2v1h-2zM400 588h2v1h-2zM273 601h3v1h-3zM1017 619h3v1h-3zM388 582h2v1h-2zM27 610h3v1h-3zM855 610h2v1h-2zM808 633h2v1h-2zM1059 625h3v1h-3zM225 605h3v1h-3zM838 616h2v1h-2zM993 616h3v1h-3zM531 653h3v1h-3zM909 613h3v1h-3zM303 595h2v1h-2zM831 620h2v1h-2zM1023 620h2v1h-2zM1035 622h2v1h-2zM291 598h2v1h-2zM633 659h3v1h-3zM315 591h2v1h-2zM219 606h3v1h-3zM399 587h1v1h-1zM801 637h1v1h-1zM1079 627h1v1h-1zM405 591h1v1h-1zM893 610h1v1h-1zM527 653h1v1h-1zM406 592h1v1h-1zM641 657h1v1h-1zM807 634h1v1h-1zM449 633h1v1h-1zM593 656h1v1h-1zM317 590h1v1h-1zM23 610h1v1h-1zM677 643h1v1h-1zM1025 621h1v1h-1zM215 606h1v1h-1zM983 615h1v1h-1zM441 625h1v1h-1zM749 640h1v1h-1zM423 607h1v1h-1zM419 603h1v1h-1zM459 642h1v1h-1zM447 631h1v1h-1zM448 632h1v1h-1zM443 627h1v1h-1zM453 637h1v1h-1zM657 653h1v1h-1zM719 637h1v1h-1zM417 601h1v1h-1zM311 592h1v1h-1zM454 638h1v1h-1zM663 650h1v1h-1zM418 602h1v1h-1zM813 631h1v1h-1zM669 647h1v1h-1zM857 609h1v1h-1zM1007 618h1v1h-1zM341 583h1v1h-1zM321 589h1v1h-1zM424 608h1v1h-1zM827 623h1v1h-1zM393 584h1v1h-1zM605 659h1v1h-1zM819 628h1v1h-1zM293 597h1v1h-1zM425 609h1v1h-1zM503 656h1v1h-1zM435 619h1v1h-1zM329 586h1v1h-1zM345 582h1v1h-1zM431 615h1v1h-1zM849 612h1v1h-1zM689 639h1v1h-1zM1055 625h1v1h-1zM239 603h1v1h-1zM467 647h1v1h-1zM305 594h1v1h-1zM411 596h1v1h-1zM455 639h1v1h-1zM581 653h1v1h-1zM695 638h1v1h-1zM485 655h1v1h-1zM412 597h1v1h-1zM681 642h1v1h-1zM429 613h1v1h-1zM359 579h1v1h-1zM887 609h1v1h-1zM479 653h1v1h-1zM413 598h1v1h-1zM471 649h1v1h-1zM837 617h1v1h-1zM430 614h1v1h-1zM863 608h1v1h-1zM1037 623h1v1h-1zM436 620h1v1h-1zM387 581h1v1h-1zM833 619h1v1h-1zM407 593h1v1h-1zM1031 622h1v1h-1zM551 650h1v1h-1zM797 638h1v1h-1zM437 621h1v1h-1zM521 654h1v1h-1zM653 654h1v1h-1zM442 626h1v1h-1zM743 639h1v1h-1zM845 613h1v1h-1z" fill="#ff0000"/></g>
<text x="7.5" y="583.5" class="ax" textLength="147" lengthAdjust="spacingAndGlyphs">MACD(12,26,9) 0.000650 0.000339</text>
<text x="1422" y="581.0" class="ax" textLength="36" lengthAdjust="spacingAndGlyphs">0.010229</text>
<text x="1422" y="634.0" class="ax" textLength="17" lengthAdjust="spacingAndGlyphs">0.00</text>
<text x="1422" y="671.0" class="ax" textLength="39" lengthAdjust="spacingAndGlyphs">-0.007477</text>
<rect x="1419" y="572" width="2" height="1" fill="#000"/>
<rect x="1419" y="630" width="2" height="1" fill="#000"/>
<rect x="1419" y="673" width="2" height="1" fill="#000"/>
<rect x="4" y="716" width="1413" height="1" fill="url(#dash)"/>
<rect x="4" y="767" width="1413" height="1" fill="url(#dash)"/>
<g shape-rendering="crispEdges"><path d="M10 724h2v1h-2zM179 724h2v1h-2zM262 724h2v1h-2zM817 724h2v1h-2zM823 724h5v1h-5zM394 756h2v1h-2zM472 756h2v1h-2zM479 756h8v1h-8zM507 740h2v1h-2zM627 740h2v1h-2zM660 740h2v1h-2zM671 740h2v1h-2zM854 740h2v1h-2zM999 740h3v1h-3zM1071 740h2v1h-2zM1081 740h6v1h-6zM1093 740h2v1h-2zM7 723h3v1h-3zM12 723h2v1h-2zM26 723h3v1h-3zM181 723h4v1h-4zM264 723h2v1h-2zM799 723h2v1h-2zM513 742h6v1h-6zM656 742h2v1h-2zM675 742h2v1h-2zM967 742h5v1h-5zM986 742h11v1h-11zM1068 742h2v1h-2zM693 745h2v1h-2zM976 745h2v1h-2zM980 745h2v1h-2zM1031 745h3v1h-3zM1037 745h4v1h-4zM99 732h4v1h-4zM109 732h2v1h-2zM153 732h2v1h-2zM202 732h2v1h-2zM226 732h11v1h-11zM771 732h2v1h-2zM783 732h3v1h-3zM908 732h2v1h-2zM929 732h2v1h-2zM943 732h2v1h-2zM5 722h2v1h-2zM24 722h2v1h-2zM29 722h2v1h-2zM185 722h3v1h-3zM266 722h3v1h-3zM695 746h3v1h-3zM978 746h2v1h-2zM1029 746h2v1h-2zM1041 746h3v1h-3zM118 728h2v1h-2zM127 728h3v1h-3zM141 728h4v1h-4zM215 728h3v1h-3zM253 728h2v1h-2zM792 728h2v1h-2zM834 728h2v1h-2zM915 728h4v1h-4zM953 728h3v1h-3zM17 720h2v1h-2zM20 720h2v1h-2zM34 720h2v1h-2zM273 720h4v1h-4zM803 720h4v1h-4zM84 733h2v1h-2zM97 733h2v1h-2zM103 733h6v1h-6zM200 733h2v1h-2zM773 733h4v1h-4zM781 733h2v1h-2zM841 733h2v1h-2zM931 733h2v1h-2zM698 747h2v1h-2zM739 747h2v1h-2zM1027 747h2v1h-2zM700 748h2v1h-2zM741 748h4v1h-4zM762 748h2v1h-2zM57 738h4v1h-4zM167 738h2v1h-2zM633 738h4v1h-4zM664 738h2v1h-2zM668 738h2v1h-2zM858 738h3v1h-3zM885 738h4v1h-4zM1004 738h2v1h-2zM1018 738h2v1h-2zM1075 738h2v1h-2zM1098 738h3v1h-3zM652 744h2v1h-2zM681 744h12v1h-12zM897 744h2v1h-2zM974 744h2v1h-2zM982 744h2v1h-2zM1034 744h3v1h-3zM1059 744h4v1h-4zM114 730h2v1h-2zM205 730h2v1h-2zM221 730h2v1h-2zM241 730h6v1h-6zM788 730h2v1h-2zM837 730h2v1h-2zM911 730h2v1h-2zM947 730h2v1h-2zM53 737h4v1h-4zM61 737h2v1h-2zM637 737h2v1h-2zM666 737h2v1h-2zM861 737h4v1h-4zM871 737h14v1h-14zM1006 737h2v1h-2zM1015 737h3v1h-3zM1101 737h4v1h-4zM1111 737h4v1h-4zM433 760h2v1h-2zM601 760h3v1h-3zM625 739h2v1h-2zM629 739h4v1h-4zM662 739h2v1h-2zM856 739h2v1h-2zM889 739h3v1h-3zM1002 739h2v1h-2zM1073 739h2v1h-2zM1077 739h4v1h-4zM1095 739h3v1h-3zM410 766h3v1h-3zM422 766h2v1h-2zM573 766h2v1h-2zM585 766h3v1h-3zM745 749h4v1h-4zM759 749h3v1h-3zM594 762h3v1h-3zM406 764h2v1h-2zM426 764h2v1h-2zM565 764h4v1h-4zM590 764h2v1h-2zM122 726h3v1h-3zM211 726h2v1h-2zM258 726h2v1h-2zM830 726h2v1h-2zM509 741h4v1h-4zM519 741h5v1h-5zM658 741h2v1h-2zM673 741h2v1h-2zM852 741h2v1h-2zM893 741h2v1h-2zM963 741h4v1h-4zM997 741h2v1h-2zM1055 741h2v1h-2zM1087 741h6v1h-6zM116 729h2v1h-2zM130 729h11v1h-11zM149 729h2v1h-2zM218 729h3v1h-3zM247 729h6v1h-6zM790 729h2v1h-2zM913 729h2v1h-2zM925 729h2v1h-2zM949 729h4v1h-4zM291 711h10v1h-10zM333 711h4v1h-4zM340 711h2v1h-2zM49 736h4v1h-4zM63 736h3v1h-3zM89 736h2v1h-2zM92 736h2v1h-2zM621 736h2v1h-2zM639 736h3v1h-3zM865 736h6v1h-6zM1008 736h2v1h-2zM1013 736h2v1h-2zM1105 736h6v1h-6zM449 757h4v1h-4zM470 757h2v1h-2zM3 721h2v1h-2zM15 721h2v1h-2zM22 721h2v1h-2zM31 721h3v1h-3zM269 721h4v1h-4zM813 721h2v1h-2zM413 767h4v1h-4zM420 767h2v1h-2zM575 767h3v1h-3zM581 767h4v1h-4zM495 752h2v1h-2zM397 758h2v1h-2zM445 758h4v1h-4zM453 758h4v1h-4zM468 758h2v1h-2zM531 758h9v1h-9zM387 753h2v1h-2zM120 727h2v1h-2zM125 727h2v1h-2zM145 727h3v1h-3zM209 727h2v1h-2zM213 727h2v1h-2zM255 727h3v1h-3zM794 727h2v1h-2zM832 727h2v1h-2zM919 727h5v1h-5zM654 743h2v1h-2zM677 743h4v1h-4zM972 743h2v1h-2zM984 743h2v1h-2zM1063 743h5v1h-5zM404 763h2v1h-2zM428 763h2v1h-2zM563 763h2v1h-2zM592 763h2v1h-2zM305 713h12v1h-12zM328 713h2v1h-2zM344 713h2v1h-2zM367 713h5v1h-5zM45 735h4v1h-4zM66 735h2v1h-2zM87 735h2v1h-2zM196 735h2v1h-2zM642 735h2v1h-2zM937 735h3v1h-3zM1010 735h3v1h-3zM43 734h2v1h-2zM95 734h2v1h-2zM198 734h2v1h-2zM777 734h4v1h-4zM933 734h4v1h-4zM940 734h2v1h-2zM319 715h3v1h-3zM324 715h2v1h-2zM435 759h10v1h-10zM457 759h11v1h-11zM391 755h3v1h-3zM474 755h5v1h-5zM487 755h5v1h-5zM111 731h3v1h-3zM223 731h3v1h-3zM237 731h4v1h-4zM786 731h2v1h-2zM945 731h2v1h-2zM417 768h3v1h-3zM578 768h3v1h-3zM497 751h2v1h-2zM547 751h4v1h-4zM705 751h2v1h-2zM753 751h4v1h-4zM260 725h2v1h-2zM819 725h4v1h-4zM828 725h2v1h-2zM401 761h2v1h-2zM431 761h2v1h-2zM597 761h4v1h-4zM287 714h2v1h-2zM317 714h2v1h-2zM326 714h2v1h-2zM346 714h21v1h-21zM408 765h2v1h-2zM424 765h2v1h-2zM569 765h4v1h-4zM588 765h2v1h-2zM277 719h4v1h-4zM807 719h5v1h-5zM551 750h5v1h-5zM703 750h2v1h-2zM735 750h2v1h-2zM749 750h4v1h-4zM757 750h2v1h-2zM301 712h4v1h-4zM330 712h3v1h-3zM342 712h2v1h-2zM389 754h2v1h-2zM492 754h2v1h-2zM543 754h2v1h-2zM723 754h9v1h-9zM322 716h2v1h-2zM337 710h3v1h-3zM281 718h3v1h-3zM78 724h1v2h-1zM161 740h1v1h-1zM70 729h1v2h-1zM173 732h1v1h-1zM529 753h1v2h-1zM764 746h1v2h-1zM164 741h1v1h-1zM962 739h1v2h-1zM74 721h1v2h-1zM711 748h1v1h-1zM36 721h1v2h-1zM613 743h1v1h-1zM384 749h1v1h-1zM403 762h1v1h-1zM374 723h1v4h-1zM81 729h1v1h-1zM722 753h1v1h-1zM1026 746h1v1h-1zM377 734h1v4h-1zM901 742h1v1h-1zM609 749h1v2h-1zM528 751h1v2h-1zM69 731h1v2h-1zM928 731h1v1h-1zM42 732h1v2h-1zM616 738h1v2h-1zM39 727h1v1h-1zM207 729h1v1h-1zM605 756h1v2h-1zM525 745h1v2h-1zM768 738h1v2h-1zM506 741h1v1h-1zM715 744h1v1h-1zM623 737h1v1h-1zM646 739h1v1h-1zM80 727h1v2h-1zM847 738h1v1h-1zM373 719h1v4h-1zM176 728h1v1h-1zM647 740h1v1h-1zM624 738h1v1h-1zM73 723h1v2h-1zM848 739h1v1h-1zM1057 742h1v1h-1zM767 740h1v2h-1zM286 715h1v1h-1zM494 753h1v1h-1zM904 737h1v2h-1zM399 759h1v1h-1zM38 725h1v2h-1zM961 737h1v2h-1zM194 734h1v2h-1zM376 730h1v4h-1zM91 737h1v1h-1zM501 747h1v2h-1zM798 724h1v1h-1zM900 743h1v2h-1zM892 740h1v1h-1zM1045 744h1v1h-1zM733 752h1v1h-1zM802 721h1v1h-1zM924 728h1v1h-1zM68 733h1v2h-1zM927 730h1v1h-1zM737 749h1v1h-1zM612 744h1v2h-1zM531 757h1v1h-1zM290 712h1v1h-1zM562 761h1v2h-1zM524 743h1v2h-1zM190 727h1v2h-1zM558 755h1v1h-1zM619 734h1v1h-1zM1052 738h1v1h-1zM175 729h1v2h-1zM645 737h1v2h-1zM771 733h1v1h-1zM166 739h1v1h-1zM83 732h1v1h-1zM649 742h1v2h-1zM713 746h1v1h-1zM170 736h1v1h-1zM372 715h1v4h-1zM557 753h1v2h-1zM163 742h1v1h-1zM530 755h1v2h-1zM527 749h1v2h-1zM193 732h1v2h-1zM561 759h1v2h-1zM284 717h1v1h-1zM41 730h1v2h-1zM523 742h1v1h-1zM610 747h1v2h-1zM178 725h1v2h-1zM189 725h1v2h-1zM72 725h1v2h-1zM1048 740h1v1h-1zM379 742h1v2h-1zM37 723h1v2h-1zM1020 739h1v1h-1zM766 742h1v2h-1zM903 739h1v1h-1zM717 746h1v2h-1zM843 734h1v1h-1zM162 741h1v1h-1zM1021 740h1v1h-1zM82 730h1v2h-1zM606 754h1v2h-1zM19 719h1v1h-1zM648 741h1v1h-1zM1058 743h1v1h-1zM526 747h1v2h-1zM850 741h1v1h-1zM151 730h1v1h-1zM770 734h1v2h-1zM708 751h1v1h-1zM40 728h1v2h-1zM500 749h1v1h-1zM155 733h1v1h-1zM899 745h1v1h-1zM375 727h1v3h-1zM378 738h1v4h-1zM702 749h1v1h-1zM849 740h1v1h-1zM618 735h1v2h-1zM556 751h1v2h-1zM1047 741h1v2h-1zM765 744h1v2h-1zM400 760h1v1h-1zM503 745h1v1h-1zM192 730h1v2h-1zM797 725h1v1h-1zM172 733h1v2h-1zM381 745h1v2h-1zM801 722h1v1h-1zM716 745h1v1h-1zM906 734h1v2h-1zM165 740h1v1h-1zM382 747h1v1h-1zM540 757h1v1h-1zM1054 740h1v1h-1zM712 747h1v1h-1zM1024 744h1v1h-1zM559 756h1v2h-1zM1050 738h1v1h-1zM560 758h1v1h-1zM195 736h1v1h-1zM188 723h1v2h-1zM608 751h1v2h-1zM191 729h1v1h-1zM902 740h1v2h-1zM620 735h1v1h-1zM371 714h1v1h-1zM1053 739h1v1h-1zM169 737h1v1h-1zM1023 742h1v2h-1zM719 749h1v1h-1zM845 736h1v1h-1zM604 758h1v2h-1zM910 731h1v1h-1zM815 722h1v1h-1zM396 757h1v1h-1zM651 745h1v1h-1zM769 736h1v2h-1zM959 734h1v2h-1zM156 734h1v1h-1zM157 735h1v1h-1zM650 744h1v1h-1zM710 749h1v1h-1zM615 740h1v1h-1zM707 752h1v1h-1zM502 746h1v1h-1zM380 744h1v1h-1zM905 736h1v1h-1zM718 748h1v1h-1zM844 735h1v1h-1zM1022 741h1v1h-1zM505 742h1v2h-1zM1049 739h1v1h-1zM851 742h1v1h-1zM957 731h1v2h-1zM152 731h1v1h-1zM542 755h1v1h-1zM958 733h1v1h-1zM94 735h1v1h-1zM840 732h1v1h-1zM732 753h1v1h-1zM285 716h1v1h-1zM76 721h1v2h-1zM611 746h1v1h-1zM383 748h1v1h-1zM77 723h1v1h-1zM289 713h1v1h-1zM1025 745h1v1h-1zM836 729h1v1h-1zM839 731h1v1h-1zM607 753h1v1h-1zM714 745h1v1h-1zM546 752h1v1h-1zM171 735h1v1h-1zM1044 745h1v1h-1zM942 733h1v1h-1zM721 751h1v2h-1zM159 737h1v2h-1zM148 728h1v1h-1zM895 742h1v1h-1zM71 727h1v2h-1zM174 731h1v1h-1zM896 743h1v1h-1zM177 727h1v1h-1zM956 729h1v2h-1zM204 731h1v1h-1zM614 741h1v2h-1zM208 728h1v1h-1zM385 750h1v2h-1zM709 750h1v1h-1zM846 737h1v1h-1zM75 720h1v1h-1zM720 750h1v1h-1zM158 736h1v1h-1zM386 752h1v1h-1zM816 723h1v1h-1zM504 744h1v1h-1zM86 734h1v1h-1zM499 750h1v1h-1zM907 733h1v1h-1zM960 736h1v1h-1zM1070 741h1v1h-1zM1051 737h1v1h-1zM14 722h1v1h-1zM812 720h1v1h-1zM644 736h1v1h-1zM79 726h1v1h-1zM1046 743h1v1h-1zM541 756h1v1h-1zM670 739h1v1h-1zM796 726h1v1h-1zM734 751h1v1h-1zM545 753h1v1h-1zM738 748h1v1h-1zM430 762h1v1h-1zM617 737h1v1h-1zM160 739h1v1h-1z" fill="#1e90ff"/></g>
<text x="7.2" y="689.2" class="ax" textLength="67.7" lengthAdjust="spacingAndGlyphs">RSI(14) 53.2469</text>
<text x="1422.3" y="687.3" class="ax" textLength="14" lengthAdjust="spacingAndGlyphs">100</text>
<text x="1422.3" y="720.0" class="ax" textLength="9.5" lengthAdjust="spacingAndGlyphs">70</text>
<text x="1422.3" y="771.0" class="ax" textLength="9.5" lengthAdjust="spacingAndGlyphs">30</text>
<text x="1422.3" y="803.1" class="ax" textLength="4.8" lengthAdjust="spacingAndGlyphs">0</text>
<rect x="1419" y="678" width="2" height="1" fill="#000"/>
<rect x="1419" y="805" width="2" height="1" fill="#000"/>
<rect x="3" y="807" width="1" height="3" fill="#000"/>
<text x="1.6" y="818.8" class="ax" textLength="49.6" lengthAdjust="spacingAndGlyphs">9 Nov 2018</text>
<rect x="67" y="807" width="1" height="3" fill="#000"/>
<text x="66.1" y="818.8" class="ax" textLength="53.6" lengthAdjust="spacingAndGlyphs">19 Nov 2018</text>
<rect x="131" y="807" width="1" height="3" fill="#000"/>
<text x="130.1" y="818.8" class="ax" textLength="54.0" lengthAdjust="spacingAndGlyphs">28 Nov 2018</text>
<rect x="195" y="807" width="1" height="3" fill="#000"/>
<text x="194.4" y="818.8" class="ax" textLength="46.6" lengthAdjust="spacingAndGlyphs">7 Dec 2018</text>
<rect x="259" y="807" width="1" height="3" fill="#000"/>
<text x="258.1" y="818.8" class="ax" textLength="52.1" lengthAdjust="spacingAndGlyphs">17 Dec 2018</text>
<rect x="323" y="807" width="1" height="3" fill="#000"/>
<text x="321.90000000000003" y="818.8" class="ax" textLength="51.800000000000004" lengthAdjust="spacingAndGlyphs">26 Dec 2018</text>
<rect x="387" y="807" width="1" height="3" fill="#000"/>
<text x="385.1" y="818.8" class="ax" textLength="46.300000000000004" lengthAdjust="spacingAndGlyphs">4 Jan 2019</text>
<rect x="451" y="807" width="1" height="3" fill="#000"/>
<text x="449.90000000000003" y="818.8" class="ax" textLength="49.9" lengthAdjust="spacingAndGlyphs">14 Jan 2019</text>
<rect x="515" y="807" width="1" height="3" fill="#000"/>
<text x="513.6" y="818.8" class="ax" textLength="50.4" lengthAdjust="spacingAndGlyphs">23 Jan 2019</text>
<rect x="579" y="807" width="1" height="3" fill="#000"/>
<text x="578.5" y="818.8" class="ax" textLength="46.0" lengthAdjust="spacingAndGlyphs">1 Feb 2019</text>
<rect x="643" y="807" width="1" height="3" fill="#000"/>
<text x="642.2" y="818.8" class="ax" textLength="52.0" lengthAdjust="spacingAndGlyphs">11 Feb 2019</text>
<rect x="707" y="807" width="1" height="3" fill="#000"/>
<text x="705.7" y="818.8" class="ax" textLength="52.0" lengthAdjust="spacingAndGlyphs">20 Feb 2019</text>
<rect x="771" y="807" width="1" height="3" fill="#000"/>
<text x="770.0" y="818.8" class="ax" textLength="47.1" lengthAdjust="spacingAndGlyphs">1 Mar 2019</text>
<rect x="835" y="807" width="1" height="3" fill="#000"/>
<text x="834.0" y="818.8" class="ax" textLength="52.0" lengthAdjust="spacingAndGlyphs">11 Mar 2019</text>
<rect x="899" y="807" width="1" height="3" fill="#000"/>
<text x="897.8000000000001" y="818.8" class="ax" textLength="52.0" lengthAdjust="spacingAndGlyphs">20 Mar 2019</text>
<rect x="963" y="807" width="1" height="3" fill="#000"/>
<text x="962.1" y="818.8" class="ax" textLength="52.0" lengthAdjust="spacingAndGlyphs">29 Mar 2019</text>
<rect x="1027" y="807" width="1" height="3" fill="#000"/>
<text x="1025.5" y="818.8" class="ax" textLength="46.6" lengthAdjust="spacingAndGlyphs">8 Apr 2019</text>
<rect x="1091" y="807" width="1" height="3" fill="#000"/>
<text x="1089.8" y="818.8" class="ax" textLength="51.2" lengthAdjust="spacingAndGlyphs">17 Apr 2019</text>
<rect x="0" y="827" width="1462" height="1" fill="#e3e3e3"/>
<rect x="0" y="830" width="1462" height="21" fill="#f0f0f0"/>
<rect x="0" y="848" width="1462" height="3" fill="#f7f7f7"/>
<rect x="0" y="829" width="1462" height="1" fill="#000"/>
<rect x="328" y="829" width="108" height="19" fill="#000"/>
<rect x="329" y="830" width="106" height="17" fill="#fff"/>
<text x="15.7" y="843.7" font-size="12" fill="#6d6d6d" textLength="84.1" lengthAdjust="spacingAndGlyphs">EURUSD-,Daily</text>
<text x="122.3" y="843.7" font-size="12" fill="#6d6d6d" textLength="86.5" lengthAdjust="spacingAndGlyphs">AUDUSD-,Daily</text>
<text x="232.4" y="843.7" font-size="12" fill="#6d6d6d" textLength="83.7" lengthAdjust="spacingAndGlyphs">USDCHF-,Daily</text>
<text x="339.1" y="843.7" font-size="12" fill="#000" textLength="86.2" lengthAdjust="spacingAndGlyphs">USDCAD-,Daily</text>
<text x="448.2" y="843.7" font-size="12" fill="#6d6d6d" textLength="87.8" lengthAdjust="spacingAndGlyphs">USDCNH-,Daily</text>
<rect x="112" y="832" width="1" height="14" fill="#6d6d6d"/>
<rect x="220" y="832" width="1" height="14" fill="#6d6d6d"/>
<rect x="548" y="832" width="1" height="14" fill="#6d6d6d"/>
<polygon points="1437.5,834.5 1437.5,841.5 1434,838" fill="#a0a0a0"/>
<polygon points="1452.5,834.5 1452.5,841.5 1456,838" fill="#a0a0a0"/>

<g>
 <defs>
  <linearGradient id="gTop" x1="0" y1="0" x2="0" y2="1"><stop offset="0" stop-color="#5a5aff"/><stop offset="1" stop-color="#2a2aee"/></linearGradient>
  <linearGradient id="gBot" gradientUnits="userSpaceOnUse" x1="0" y1="72" x2="0" y2="112"><stop offset="0" stop-color="#2222e0"/><stop offset="1" stop-color="#0000b0"/></linearGradient>
  <linearGradient id="gBtn" x1="0" y1="0" x2="0" y2="1"><stop offset="0" stop-color="#ececec"/><stop offset="0.5" stop-color="#e2e2e2"/><stop offset="0.55" stop-color="#d6d6d6"/><stop offset="1" stop-color="#d0d0d0"/></linearGradient>
 </defs>
 <rect x="6" y="48" width="52" height="24" fill="url(#gTop)"/>
 <rect x="6" y="72" width="109" height="40" fill="url(#gBot)"/>
 <rect x="173" y="48" width="52" height="24" fill="url(#gTop)"/>
 <rect x="117" y="72" width="108" height="40" fill="url(#gBot)"/>
 <rect x="10" y="72" width="44" height="1" fill="#8c8cff"/>
 <rect x="177" y="72" width="44" height="1" fill="#8c8cff"/>
 <rect x="60.5" y="48.5" width="110" height="21" fill="#fff" stroke="#a8a8a8"/>
 <rect x="61.5" y="49.5" width="19" height="19" fill="url(#gBtn)" stroke="#b4b4b4"/>
 <rect x="149.5" y="49.5" width="20" height="19" fill="url(#gBtn)" stroke="#b4b4b4"/>
 <polygon points="68.5,57.5 73.5,57.5 71,60" fill="#6070b0"/>
 <polygon points="157,60 162,60 159.5,57.5" fill="#6070b0"/>
 <text x="145.6" y="62.9" font-size="11.5" fill="#000" text-anchor="end" font-family="DejaVu Sans Condensed, Liberation Sans, sans-serif">1.00</text>
 <text x="18.5" y="64" font-size="11.5" fill="#e8e8ff" font-family="DejaVu Sans Condensed, Liberation Sans, sans-serif" textLength="25.4" lengthAdjust="spacingAndGlyphs">SELL</text>
 <text x="186.1" y="64" font-size="11.5" fill="#e8e8ff" font-family="DejaVu Sans Condensed, Liberation Sans, sans-serif" textLength="23.8" lengthAdjust="spacingAndGlyphs">BUY</text>
 <text x="26.4" y="103.1" font-size="12.5" font-weight="bold" fill="#fff" textLength="23.3" lengthAdjust="spacingAndGlyphs">1.33</text>
 <text x="53.4" y="103.4" font-size="34" fill="#fff" stroke="url(#gBot)" stroke-width="0.6" textLength="34.9" lengthAdjust="spacingAndGlyphs">73</text>
 <text x="93.6" y="86.7" font-size="11" font-weight="bold" fill="#fff" textLength="6.3" lengthAdjust="spacingAndGlyphs">3</text>
 <text x="136.4" y="103.1" font-size="12.5" font-weight="bold" fill="#fff" textLength="23.3" lengthAdjust="spacingAndGlyphs">1.33</text>
 <text x="165" y="103.4" font-size="34" fill="#fff" stroke="url(#gBot)" stroke-width="0.6" textLength="33.8" lengthAdjust="spacingAndGlyphs">75</text>
 <text x="204.6" y="86.7" font-size="11" font-weight="bold" fill="#fff" textLength="6.4" lengthAdjust="spacingAndGlyphs">6</text>
</g>

</svg>
</body></html>
